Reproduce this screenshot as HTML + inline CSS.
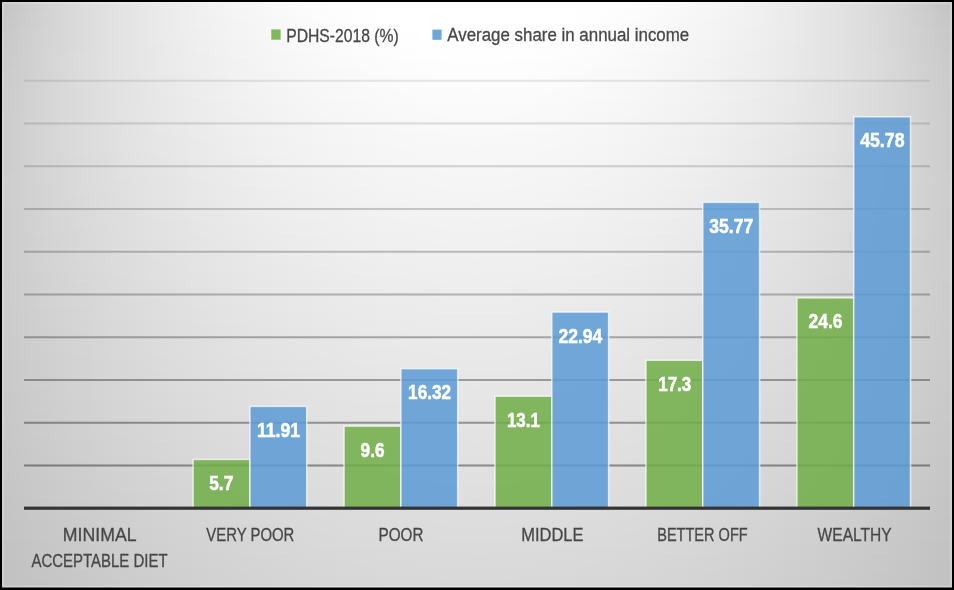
<!DOCTYPE html>
<html><head><meta charset="utf-8"><style>
html,body{margin:0;padding:0;width:954px;height:590px;overflow:hidden;background:#000;}
#bg{position:absolute;left:0;top:0;width:954px;height:590px;}
#bg div{position:absolute;left:0;width:954px;}
svg{position:absolute;left:0;top:0;display:block;will-change:transform;}
text{font-family:"Liberation Sans", sans-serif;}
</style></head><body>

<div id="bg">
<div style="top:0px;height:4px;background:linear-gradient(90deg,#c3c3c3 0.21%,#d0d0d0 4.19%,#dbdbdb 8.39%,#e3e3e3 12.58%,#eaeaea 16.77%,#f0f0f0 20.96%,#f5f5f5 25.16%,#f9f9f9 29.35%,#fdfdfd 33.54%,#ffffff 37.74%,#ffffff 41.93%,#ffffff 46.12%,#ffffff 50.00%,#ffffff 53.88%,#ffffff 58.07%,#ffffff 62.26%,#fdfdfd 66.46%,#f9f9f9 70.65%,#f5f5f5 74.84%,#f0f0f0 79.04%,#eaeaea 83.23%,#e3e3e3 87.42%,#dbdbdb 91.61%,#d0d0d0 95.81%,#c3c3c3 99.79%)"></div>
<div style="top:4px;height:4px;background:linear-gradient(90deg,#c4c4c4 0.21%,#d0d0d0 4.19%,#dbdbdb 8.39%,#e3e3e3 12.58%,#eaeaea 16.77%,#f0f0f0 20.96%,#f5f5f5 25.16%,#f9f9f9 29.35%,#fcfcfc 33.54%,#ffffff 37.74%,#ffffff 41.93%,#ffffff 46.12%,#ffffff 50.00%,#ffffff 53.88%,#ffffff 58.07%,#ffffff 62.26%,#fcfcfc 66.46%,#f9f9f9 70.65%,#f5f5f5 74.84%,#f0f0f0 79.04%,#eaeaea 83.23%,#e3e3e3 87.42%,#dbdbdb 91.61%,#d0d0d0 95.81%,#c4c4c4 99.79%)"></div>
<div style="top:8px;height:4px;background:linear-gradient(90deg,#c4c4c4 0.21%,#d0d0d0 4.19%,#dbdbdb 8.39%,#e3e3e3 12.58%,#eaeaea 16.77%,#f0f0f0 20.96%,#f5f5f5 25.16%,#f9f9f9 29.35%,#fcfcfc 33.54%,#fefefe 37.74%,#ffffff 41.93%,#ffffff 46.12%,#ffffff 50.00%,#ffffff 53.88%,#ffffff 58.07%,#fefefe 62.26%,#fcfcfc 66.46%,#f9f9f9 70.65%,#f5f5f5 74.84%,#f0f0f0 79.04%,#eaeaea 83.23%,#e3e3e3 87.42%,#dbdbdb 91.61%,#d0d0d0 95.81%,#c4c4c4 99.79%)"></div>
<div style="top:12px;height:4px;background:linear-gradient(90deg,#c5c5c5 0.21%,#d1d1d1 4.19%,#dbdbdb 8.39%,#e3e3e3 12.58%,#eaeaea 16.77%,#f0f0f0 20.96%,#f5f5f5 25.16%,#f9f9f9 29.35%,#fcfcfc 33.54%,#fefefe 37.74%,#ffffff 41.93%,#ffffff 46.12%,#ffffff 50.00%,#ffffff 53.88%,#ffffff 58.07%,#fefefe 62.26%,#fcfcfc 66.46%,#f9f9f9 70.65%,#f5f5f5 74.84%,#f0f0f0 79.04%,#eaeaea 83.23%,#e3e3e3 87.42%,#dbdbdb 91.61%,#d1d1d1 95.81%,#c5c5c5 99.79%)"></div>
<div style="top:16px;height:4px;background:linear-gradient(90deg,#c5c5c5 0.21%,#d1d1d1 4.19%,#dbdbdb 8.39%,#e3e3e3 12.58%,#eaeaea 16.77%,#f0f0f0 20.96%,#f5f5f5 25.16%,#f8f8f8 29.35%,#fcfcfc 33.54%,#fefefe 37.74%,#ffffff 41.93%,#ffffff 46.12%,#ffffff 50.00%,#ffffff 53.88%,#ffffff 58.07%,#fefefe 62.26%,#fcfcfc 66.46%,#f8f8f8 70.65%,#f5f5f5 74.84%,#f0f0f0 79.04%,#eaeaea 83.23%,#e3e3e3 87.42%,#dbdbdb 91.61%,#d1d1d1 95.81%,#c5c5c5 99.79%)"></div>
<div style="top:20px;height:4px;background:linear-gradient(90deg,#c6c6c6 0.21%,#d1d1d1 4.19%,#dbdbdb 8.39%,#e3e3e3 12.58%,#eaeaea 16.77%,#f0f0f0 20.96%,#f4f4f4 25.16%,#f8f8f8 29.35%,#fbfbfb 33.54%,#fefefe 37.74%,#ffffff 41.93%,#ffffff 46.12%,#ffffff 50.00%,#ffffff 53.88%,#ffffff 58.07%,#fefefe 62.26%,#fbfbfb 66.46%,#f8f8f8 70.65%,#f4f4f4 74.84%,#f0f0f0 79.04%,#eaeaea 83.23%,#e3e3e3 87.42%,#dbdbdb 91.61%,#d1d1d1 95.81%,#c6c6c6 99.79%)"></div>
<div style="top:24px;height:4px;background:linear-gradient(90deg,#c6c6c6 0.21%,#d1d1d1 4.19%,#dbdbdb 8.39%,#e3e3e3 12.58%,#eaeaea 16.77%,#f0f0f0 20.96%,#f4f4f4 25.16%,#f8f8f8 29.35%,#fbfbfb 33.54%,#fdfdfd 37.74%,#ffffff 41.93%,#ffffff 46.12%,#ffffff 50.00%,#ffffff 53.88%,#ffffff 58.07%,#fdfdfd 62.26%,#fbfbfb 66.46%,#f8f8f8 70.65%,#f4f4f4 74.84%,#f0f0f0 79.04%,#eaeaea 83.23%,#e3e3e3 87.42%,#dbdbdb 91.61%,#d1d1d1 95.81%,#c6c6c6 99.79%)"></div>
<div style="top:28px;height:4px;background:linear-gradient(90deg,#c7c7c7 0.21%,#d2d2d2 4.19%,#dbdbdb 8.39%,#e3e3e3 12.58%,#eaeaea 16.77%,#efefef 20.96%,#f4f4f4 25.16%,#f8f8f8 29.35%,#fbfbfb 33.54%,#fdfdfd 37.74%,#ffffff 41.93%,#ffffff 46.12%,#ffffff 50.00%,#ffffff 53.88%,#ffffff 58.07%,#fdfdfd 62.26%,#fbfbfb 66.46%,#f8f8f8 70.65%,#f4f4f4 74.84%,#efefef 79.04%,#eaeaea 83.23%,#e3e3e3 87.42%,#dbdbdb 91.61%,#d2d2d2 95.81%,#c7c7c7 99.79%)"></div>
<div style="top:32px;height:4px;background:linear-gradient(90deg,#c7c7c7 0.21%,#d2d2d2 4.19%,#dbdbdb 8.39%,#e3e3e3 12.58%,#eaeaea 16.77%,#efefef 20.96%,#f4f4f4 25.16%,#f8f8f8 29.35%,#fbfbfb 33.54%,#fdfdfd 37.74%,#fefefe 41.93%,#ffffff 46.12%,#ffffff 50.00%,#ffffff 53.88%,#fefefe 58.07%,#fdfdfd 62.26%,#fbfbfb 66.46%,#f8f8f8 70.65%,#f4f4f4 74.84%,#efefef 79.04%,#eaeaea 83.23%,#e3e3e3 87.42%,#dbdbdb 91.61%,#d2d2d2 95.81%,#c7c7c7 99.79%)"></div>
<div style="top:36px;height:4px;background:linear-gradient(90deg,#c7c7c7 0.21%,#d2d2d2 4.19%,#dbdbdb 8.39%,#e3e3e3 12.58%,#eaeaea 16.77%,#efefef 20.96%,#f4f4f4 25.16%,#f7f7f7 29.35%,#fafafa 33.54%,#fdfdfd 37.74%,#fefefe 41.93%,#ffffff 46.12%,#ffffff 50.00%,#ffffff 53.88%,#fefefe 58.07%,#fdfdfd 62.26%,#fafafa 66.46%,#f7f7f7 70.65%,#f4f4f4 74.84%,#efefef 79.04%,#eaeaea 83.23%,#e3e3e3 87.42%,#dbdbdb 91.61%,#d2d2d2 95.81%,#c7c7c7 99.79%)"></div>
<div style="top:40px;height:4px;background:linear-gradient(90deg,#c8c8c8 0.21%,#d2d2d2 4.19%,#dbdbdb 8.39%,#e3e3e3 12.58%,#eaeaea 16.77%,#efefef 20.96%,#f3f3f3 25.16%,#f7f7f7 29.35%,#fafafa 33.54%,#fcfcfc 37.74%,#fefefe 41.93%,#ffffff 46.12%,#ffffff 50.00%,#ffffff 53.88%,#fefefe 58.07%,#fcfcfc 62.26%,#fafafa 66.46%,#f7f7f7 70.65%,#f3f3f3 74.84%,#efefef 79.04%,#eaeaea 83.23%,#e3e3e3 87.42%,#dbdbdb 91.61%,#d2d2d2 95.81%,#c8c8c8 99.79%)"></div>
<div style="top:44px;height:4px;background:linear-gradient(90deg,#c8c8c8 0.21%,#d2d2d2 4.19%,#dbdbdb 8.39%,#e3e3e3 12.58%,#e9e9e9 16.77%,#efefef 20.96%,#f3f3f3 25.16%,#f7f7f7 29.35%,#fafafa 33.54%,#fcfcfc 37.74%,#fefefe 41.93%,#fefefe 46.12%,#ffffff 50.00%,#fefefe 53.88%,#fefefe 58.07%,#fcfcfc 62.26%,#fafafa 66.46%,#f7f7f7 70.65%,#f3f3f3 74.84%,#efefef 79.04%,#e9e9e9 83.23%,#e3e3e3 87.42%,#dbdbdb 91.61%,#d2d2d2 95.81%,#c8c8c8 99.79%)"></div>
<div style="top:48px;height:4px;background:linear-gradient(90deg,#c8c8c8 0.21%,#d3d3d3 4.19%,#dbdbdb 8.39%,#e3e3e3 12.58%,#e9e9e9 16.77%,#efefef 20.96%,#f3f3f3 25.16%,#f7f7f7 29.35%,#fafafa 33.54%,#fcfcfc 37.74%,#fdfdfd 41.93%,#fefefe 46.12%,#fefefe 50.00%,#fefefe 53.88%,#fdfdfd 58.07%,#fcfcfc 62.26%,#fafafa 66.46%,#f7f7f7 70.65%,#f3f3f3 74.84%,#efefef 79.04%,#e9e9e9 83.23%,#e3e3e3 87.42%,#dbdbdb 91.61%,#d3d3d3 95.81%,#c8c8c8 99.79%)"></div>
<div style="top:52px;height:4px;background:linear-gradient(90deg,#c9c9c9 0.21%,#d3d3d3 4.19%,#dcdcdc 8.39%,#e3e3e3 12.58%,#e9e9e9 16.77%,#eeeeee 20.96%,#f3f3f3 25.16%,#f6f6f6 29.35%,#f9f9f9 33.54%,#fcfcfc 37.74%,#fdfdfd 41.93%,#fefefe 46.12%,#fefefe 50.00%,#fefefe 53.88%,#fdfdfd 58.07%,#fcfcfc 62.26%,#f9f9f9 66.46%,#f6f6f6 70.65%,#f3f3f3 74.84%,#eeeeee 79.04%,#e9e9e9 83.23%,#e3e3e3 87.42%,#dcdcdc 91.61%,#d3d3d3 95.81%,#c9c9c9 99.79%)"></div>
<div style="top:56px;height:4px;background:linear-gradient(90deg,#c9c9c9 0.21%,#d3d3d3 4.19%,#dcdcdc 8.39%,#e3e3e3 12.58%,#e9e9e9 16.77%,#eeeeee 20.96%,#f3f3f3 25.16%,#f6f6f6 29.35%,#f9f9f9 33.54%,#fbfbfb 37.74%,#fdfdfd 41.93%,#fefefe 46.12%,#fefefe 50.00%,#fefefe 53.88%,#fdfdfd 58.07%,#fbfbfb 62.26%,#f9f9f9 66.46%,#f6f6f6 70.65%,#f3f3f3 74.84%,#eeeeee 79.04%,#e9e9e9 83.23%,#e3e3e3 87.42%,#dcdcdc 91.61%,#d3d3d3 95.81%,#c9c9c9 99.79%)"></div>
<div style="top:60px;height:4px;background:linear-gradient(90deg,#c9c9c9 0.21%,#d3d3d3 4.19%,#dcdcdc 8.39%,#e3e3e3 12.58%,#e9e9e9 16.77%,#eeeeee 20.96%,#f2f2f2 25.16%,#f6f6f6 29.35%,#f9f9f9 33.54%,#fbfbfb 37.74%,#fcfcfc 41.93%,#fdfdfd 46.12%,#fefefe 50.00%,#fdfdfd 53.88%,#fcfcfc 58.07%,#fbfbfb 62.26%,#f9f9f9 66.46%,#f6f6f6 70.65%,#f2f2f2 74.84%,#eeeeee 79.04%,#e9e9e9 83.23%,#e3e3e3 87.42%,#dcdcdc 91.61%,#d3d3d3 95.81%,#c9c9c9 99.79%)"></div>
<div style="top:64px;height:4px;background:linear-gradient(90deg,#c9c9c9 0.21%,#d3d3d3 4.19%,#dcdcdc 8.39%,#e3e3e3 12.58%,#e9e9e9 16.77%,#eeeeee 20.96%,#f2f2f2 25.16%,#f6f6f6 29.35%,#f9f9f9 33.54%,#fbfbfb 37.74%,#fcfcfc 41.93%,#fdfdfd 46.12%,#fdfdfd 50.00%,#fdfdfd 53.88%,#fcfcfc 58.07%,#fbfbfb 62.26%,#f9f9f9 66.46%,#f6f6f6 70.65%,#f2f2f2 74.84%,#eeeeee 79.04%,#e9e9e9 83.23%,#e3e3e3 87.42%,#dcdcdc 91.61%,#d3d3d3 95.81%,#c9c9c9 99.79%)"></div>
<div style="top:68px;height:4px;background:linear-gradient(90deg,#cacaca 0.21%,#d3d3d3 4.19%,#dcdcdc 8.39%,#e3e3e3 12.58%,#e9e9e9 16.77%,#eeeeee 20.96%,#f2f2f2 25.16%,#f6f6f6 29.35%,#f8f8f8 33.54%,#fafafa 37.74%,#fcfcfc 41.93%,#fdfdfd 46.12%,#fdfdfd 50.00%,#fdfdfd 53.88%,#fcfcfc 58.07%,#fafafa 62.26%,#f8f8f8 66.46%,#f6f6f6 70.65%,#f2f2f2 74.84%,#eeeeee 79.04%,#e9e9e9 83.23%,#e3e3e3 87.42%,#dcdcdc 91.61%,#d3d3d3 95.81%,#cacaca 99.79%)"></div>
<div style="top:72px;height:4px;background:linear-gradient(90deg,#cacaca 0.21%,#d3d3d3 4.19%,#dcdcdc 8.39%,#e3e3e3 12.58%,#e9e9e9 16.77%,#eeeeee 20.96%,#f2f2f2 25.16%,#f5f5f5 29.35%,#f8f8f8 33.54%,#fafafa 37.74%,#fcfcfc 41.93%,#fdfdfd 46.12%,#fdfdfd 50.00%,#fdfdfd 53.88%,#fcfcfc 58.07%,#fafafa 62.26%,#f8f8f8 66.46%,#f5f5f5 70.65%,#f2f2f2 74.84%,#eeeeee 79.04%,#e9e9e9 83.23%,#e3e3e3 87.42%,#dcdcdc 91.61%,#d3d3d3 95.81%,#cacaca 99.79%)"></div>
<div style="top:76px;height:4px;background:linear-gradient(90deg,#cacaca 0.21%,#d3d3d3 4.19%,#dcdcdc 8.39%,#e3e3e3 12.58%,#e8e8e8 16.77%,#ededed 20.96%,#f2f2f2 25.16%,#f5f5f5 29.35%,#f8f8f8 33.54%,#fafafa 37.74%,#fbfbfb 41.93%,#fcfcfc 46.12%,#fcfcfc 50.00%,#fcfcfc 53.88%,#fbfbfb 58.07%,#fafafa 62.26%,#f8f8f8 66.46%,#f5f5f5 70.65%,#f2f2f2 74.84%,#ededed 79.04%,#e8e8e8 83.23%,#e3e3e3 87.42%,#dcdcdc 91.61%,#d3d3d3 95.81%,#cacaca 99.79%)"></div>
<div style="top:80px;height:4px;background:linear-gradient(90deg,#cacaca 0.21%,#d3d3d3 4.19%,#dcdcdc 8.39%,#e2e2e2 12.58%,#e8e8e8 16.77%,#ededed 20.96%,#f1f1f1 25.16%,#f5f5f5 29.35%,#f8f8f8 33.54%,#fafafa 37.74%,#fbfbfb 41.93%,#fcfcfc 46.12%,#fcfcfc 50.00%,#fcfcfc 53.88%,#fbfbfb 58.07%,#fafafa 62.26%,#f8f8f8 66.46%,#f5f5f5 70.65%,#f1f1f1 74.84%,#ededed 79.04%,#e8e8e8 83.23%,#e2e2e2 87.42%,#dcdcdc 91.61%,#d3d3d3 95.81%,#cacaca 99.79%)"></div>
<div style="top:84px;height:4px;background:linear-gradient(90deg,#cacaca 0.21%,#d3d3d3 4.19%,#dcdcdc 8.39%,#e2e2e2 12.58%,#e8e8e8 16.77%,#ededed 20.96%,#f1f1f1 25.16%,#f5f5f5 29.35%,#f7f7f7 33.54%,#f9f9f9 37.74%,#fbfbfb 41.93%,#fcfcfc 46.12%,#fcfcfc 50.00%,#fcfcfc 53.88%,#fbfbfb 58.07%,#f9f9f9 62.26%,#f7f7f7 66.46%,#f5f5f5 70.65%,#f1f1f1 74.84%,#ededed 79.04%,#e8e8e8 83.23%,#e2e2e2 87.42%,#dcdcdc 91.61%,#d3d3d3 95.81%,#cacaca 99.79%)"></div>
<div style="top:88px;height:4px;background:linear-gradient(90deg,#cbcbcb 0.21%,#d4d4d4 4.19%,#dbdbdb 8.39%,#e2e2e2 12.58%,#e8e8e8 16.77%,#ededed 20.96%,#f1f1f1 25.16%,#f4f4f4 29.35%,#f7f7f7 33.54%,#f9f9f9 37.74%,#fbfbfb 41.93%,#fbfbfb 46.12%,#fcfcfc 50.00%,#fbfbfb 53.88%,#fbfbfb 58.07%,#f9f9f9 62.26%,#f7f7f7 66.46%,#f4f4f4 70.65%,#f1f1f1 74.84%,#ededed 79.04%,#e8e8e8 83.23%,#e2e2e2 87.42%,#dbdbdb 91.61%,#d4d4d4 95.81%,#cbcbcb 99.79%)"></div>
<div style="top:92px;height:4px;background:linear-gradient(90deg,#cbcbcb 0.21%,#d4d4d4 4.19%,#dbdbdb 8.39%,#e2e2e2 12.58%,#e8e8e8 16.77%,#ededed 20.96%,#f1f1f1 25.16%,#f4f4f4 29.35%,#f7f7f7 33.54%,#f9f9f9 37.74%,#fafafa 41.93%,#fbfbfb 46.12%,#fbfbfb 50.00%,#fbfbfb 53.88%,#fafafa 58.07%,#f9f9f9 62.26%,#f7f7f7 66.46%,#f4f4f4 70.65%,#f1f1f1 74.84%,#ededed 79.04%,#e8e8e8 83.23%,#e2e2e2 87.42%,#dbdbdb 91.61%,#d4d4d4 95.81%,#cbcbcb 99.79%)"></div>
<div style="top:96px;height:4px;background:linear-gradient(90deg,#cbcbcb 0.21%,#d4d4d4 4.19%,#dbdbdb 8.39%,#e2e2e2 12.58%,#e8e8e8 16.77%,#ededed 20.96%,#f1f1f1 25.16%,#f4f4f4 29.35%,#f7f7f7 33.54%,#f9f9f9 37.74%,#fafafa 41.93%,#fbfbfb 46.12%,#fbfbfb 50.00%,#fbfbfb 53.88%,#fafafa 58.07%,#f9f9f9 62.26%,#f7f7f7 66.46%,#f4f4f4 70.65%,#f1f1f1 74.84%,#ededed 79.04%,#e8e8e8 83.23%,#e2e2e2 87.42%,#dbdbdb 91.61%,#d4d4d4 95.81%,#cbcbcb 99.79%)"></div>
<div style="top:100px;height:4px;background:linear-gradient(90deg,#cbcbcb 0.21%,#d4d4d4 4.19%,#dbdbdb 8.39%,#e2e2e2 12.58%,#e8e8e8 16.77%,#ececec 20.96%,#f0f0f0 25.16%,#f4f4f4 29.35%,#f6f6f6 33.54%,#f8f8f8 37.74%,#fafafa 41.93%,#fbfbfb 46.12%,#fbfbfb 50.00%,#fbfbfb 53.88%,#fafafa 58.07%,#f8f8f8 62.26%,#f6f6f6 66.46%,#f4f4f4 70.65%,#f0f0f0 74.84%,#ececec 79.04%,#e8e8e8 83.23%,#e2e2e2 87.42%,#dbdbdb 91.61%,#d4d4d4 95.81%,#cbcbcb 99.79%)"></div>
<div style="top:104px;height:4px;background:linear-gradient(90deg,#cbcbcb 0.21%,#d4d4d4 4.19%,#dbdbdb 8.39%,#e2e2e2 12.58%,#e7e7e7 16.77%,#ececec 20.96%,#f0f0f0 25.16%,#f3f3f3 29.35%,#f6f6f6 33.54%,#f8f8f8 37.74%,#f9f9f9 41.93%,#fafafa 46.12%,#fafafa 50.00%,#fafafa 53.88%,#f9f9f9 58.07%,#f8f8f8 62.26%,#f6f6f6 66.46%,#f3f3f3 70.65%,#f0f0f0 74.84%,#ececec 79.04%,#e7e7e7 83.23%,#e2e2e2 87.42%,#dbdbdb 91.61%,#d4d4d4 95.81%,#cbcbcb 99.79%)"></div>
<div style="top:108px;height:4px;background:linear-gradient(90deg,#cbcbcb 0.21%,#d4d4d4 4.19%,#dbdbdb 8.39%,#e2e2e2 12.58%,#e7e7e7 16.77%,#ececec 20.96%,#f0f0f0 25.16%,#f3f3f3 29.35%,#f6f6f6 33.54%,#f8f8f8 37.74%,#f9f9f9 41.93%,#fafafa 46.12%,#fafafa 50.00%,#fafafa 53.88%,#f9f9f9 58.07%,#f8f8f8 62.26%,#f6f6f6 66.46%,#f3f3f3 70.65%,#f0f0f0 74.84%,#ececec 79.04%,#e7e7e7 83.23%,#e2e2e2 87.42%,#dbdbdb 91.61%,#d4d4d4 95.81%,#cbcbcb 99.79%)"></div>
<div style="top:112px;height:4px;background:linear-gradient(90deg,#cccccc 0.21%,#d4d4d4 4.19%,#dbdbdb 8.39%,#e2e2e2 12.58%,#e7e7e7 16.77%,#ececec 20.96%,#f0f0f0 25.16%,#f3f3f3 29.35%,#f6f6f6 33.54%,#f7f7f7 37.74%,#f9f9f9 41.93%,#fafafa 46.12%,#fafafa 50.00%,#fafafa 53.88%,#f9f9f9 58.07%,#f7f7f7 62.26%,#f6f6f6 66.46%,#f3f3f3 70.65%,#f0f0f0 74.84%,#ececec 79.04%,#e7e7e7 83.23%,#e2e2e2 87.42%,#dbdbdb 91.61%,#d4d4d4 95.81%,#cccccc 99.79%)"></div>
<div style="top:116px;height:4px;background:linear-gradient(90deg,#cccccc 0.21%,#d4d4d4 4.19%,#dbdbdb 8.39%,#e2e2e2 12.58%,#e7e7e7 16.77%,#ececec 20.96%,#efefef 25.16%,#f3f3f3 29.35%,#f5f5f5 33.54%,#f7f7f7 37.74%,#f9f9f9 41.93%,#f9f9f9 46.12%,#fafafa 50.00%,#f9f9f9 53.88%,#f9f9f9 58.07%,#f7f7f7 62.26%,#f5f5f5 66.46%,#f3f3f3 70.65%,#efefef 74.84%,#ececec 79.04%,#e7e7e7 83.23%,#e2e2e2 87.42%,#dbdbdb 91.61%,#d4d4d4 95.81%,#cccccc 99.79%)"></div>
<div style="top:120px;height:4px;background:linear-gradient(90deg,#cccccc 0.21%,#d4d4d4 4.19%,#dbdbdb 8.39%,#e1e1e1 12.58%,#e7e7e7 16.77%,#ebebeb 20.96%,#efefef 25.16%,#f2f2f2 29.35%,#f5f5f5 33.54%,#f7f7f7 37.74%,#f8f8f8 41.93%,#f9f9f9 46.12%,#f9f9f9 50.00%,#f9f9f9 53.88%,#f8f8f8 58.07%,#f7f7f7 62.26%,#f5f5f5 66.46%,#f2f2f2 70.65%,#efefef 74.84%,#ebebeb 79.04%,#e7e7e7 83.23%,#e1e1e1 87.42%,#dbdbdb 91.61%,#d4d4d4 95.81%,#cccccc 99.79%)"></div>
<div style="top:124px;height:4px;background:linear-gradient(90deg,#cccccc 0.21%,#d4d4d4 4.19%,#dbdbdb 8.39%,#e1e1e1 12.58%,#e7e7e7 16.77%,#ebebeb 20.96%,#efefef 25.16%,#f2f2f2 29.35%,#f5f5f5 33.54%,#f7f7f7 37.74%,#f8f8f8 41.93%,#f9f9f9 46.12%,#f9f9f9 50.00%,#f9f9f9 53.88%,#f8f8f8 58.07%,#f7f7f7 62.26%,#f5f5f5 66.46%,#f2f2f2 70.65%,#efefef 74.84%,#ebebeb 79.04%,#e7e7e7 83.23%,#e1e1e1 87.42%,#dbdbdb 91.61%,#d4d4d4 95.81%,#cccccc 99.79%)"></div>
<div style="top:128px;height:4px;background:linear-gradient(90deg,#cccccc 0.21%,#d4d4d4 4.19%,#dbdbdb 8.39%,#e1e1e1 12.58%,#e7e7e7 16.77%,#ebebeb 20.96%,#efefef 25.16%,#f2f2f2 29.35%,#f4f4f4 33.54%,#f6f6f6 37.74%,#f8f8f8 41.93%,#f9f9f9 46.12%,#f9f9f9 50.00%,#f9f9f9 53.88%,#f8f8f8 58.07%,#f6f6f6 62.26%,#f4f4f4 66.46%,#f2f2f2 70.65%,#efefef 74.84%,#ebebeb 79.04%,#e7e7e7 83.23%,#e1e1e1 87.42%,#dbdbdb 91.61%,#d4d4d4 95.81%,#cccccc 99.79%)"></div>
<div style="top:132px;height:4px;background:linear-gradient(90deg,#cccccc 0.21%,#d4d4d4 4.19%,#dbdbdb 8.39%,#e1e1e1 12.58%,#e6e6e6 16.77%,#ebebeb 20.96%,#efefef 25.16%,#f2f2f2 29.35%,#f4f4f4 33.54%,#f6f6f6 37.74%,#f7f7f7 41.93%,#f8f8f8 46.12%,#f9f9f9 50.00%,#f8f8f8 53.88%,#f7f7f7 58.07%,#f6f6f6 62.26%,#f4f4f4 66.46%,#f2f2f2 70.65%,#efefef 74.84%,#ebebeb 79.04%,#e6e6e6 83.23%,#e1e1e1 87.42%,#dbdbdb 91.61%,#d4d4d4 95.81%,#cccccc 99.79%)"></div>
<div style="top:136px;height:4px;background:linear-gradient(90deg,#cccccc 0.21%,#d4d4d4 4.19%,#dbdbdb 8.39%,#e1e1e1 12.58%,#e6e6e6 16.77%,#ebebeb 20.96%,#eeeeee 25.16%,#f1f1f1 29.35%,#f4f4f4 33.54%,#f6f6f6 37.74%,#f7f7f7 41.93%,#f8f8f8 46.12%,#f8f8f8 50.00%,#f8f8f8 53.88%,#f7f7f7 58.07%,#f6f6f6 62.26%,#f4f4f4 66.46%,#f1f1f1 70.65%,#eeeeee 74.84%,#ebebeb 79.04%,#e6e6e6 83.23%,#e1e1e1 87.42%,#dbdbdb 91.61%,#d4d4d4 95.81%,#cccccc 99.79%)"></div>
<div style="top:140px;height:4px;background:linear-gradient(90deg,#cccccc 0.21%,#d4d4d4 4.19%,#dbdbdb 8.39%,#e1e1e1 12.58%,#e6e6e6 16.77%,#eaeaea 20.96%,#eeeeee 25.16%,#f1f1f1 29.35%,#f4f4f4 33.54%,#f6f6f6 37.74%,#f7f7f7 41.93%,#f8f8f8 46.12%,#f8f8f8 50.00%,#f8f8f8 53.88%,#f7f7f7 58.07%,#f6f6f6 62.26%,#f4f4f4 66.46%,#f1f1f1 70.65%,#eeeeee 74.84%,#eaeaea 79.04%,#e6e6e6 83.23%,#e1e1e1 87.42%,#dbdbdb 91.61%,#d4d4d4 95.81%,#cccccc 99.79%)"></div>
<div style="top:144px;height:4px;background:linear-gradient(90deg,#cccccc 0.21%,#d4d4d4 4.19%,#dbdbdb 8.39%,#e1e1e1 12.58%,#e6e6e6 16.77%,#eaeaea 20.96%,#eeeeee 25.16%,#f1f1f1 29.35%,#f3f3f3 33.54%,#f5f5f5 37.74%,#f7f7f7 41.93%,#f7f7f7 46.12%,#f8f8f8 50.00%,#f7f7f7 53.88%,#f7f7f7 58.07%,#f5f5f5 62.26%,#f3f3f3 66.46%,#f1f1f1 70.65%,#eeeeee 74.84%,#eaeaea 79.04%,#e6e6e6 83.23%,#e1e1e1 87.42%,#dbdbdb 91.61%,#d4d4d4 95.81%,#cccccc 99.79%)"></div>
<div style="top:148px;height:4px;background:linear-gradient(90deg,#cccccc 0.21%,#d4d4d4 4.19%,#dbdbdb 8.39%,#e1e1e1 12.58%,#e6e6e6 16.77%,#eaeaea 20.96%,#eeeeee 25.16%,#f1f1f1 29.35%,#f3f3f3 33.54%,#f5f5f5 37.74%,#f6f6f6 41.93%,#f7f7f7 46.12%,#f7f7f7 50.00%,#f7f7f7 53.88%,#f6f6f6 58.07%,#f5f5f5 62.26%,#f3f3f3 66.46%,#f1f1f1 70.65%,#eeeeee 74.84%,#eaeaea 79.04%,#e6e6e6 83.23%,#e1e1e1 87.42%,#dbdbdb 91.61%,#d4d4d4 95.81%,#cccccc 99.79%)"></div>
<div style="top:152px;height:4px;background:linear-gradient(90deg,#cccccc 0.21%,#d4d4d4 4.19%,#dbdbdb 8.39%,#e0e0e0 12.58%,#e6e6e6 16.77%,#eaeaea 20.96%,#eeeeee 25.16%,#f1f1f1 29.35%,#f3f3f3 33.54%,#f5f5f5 37.74%,#f6f6f6 41.93%,#f7f7f7 46.12%,#f7f7f7 50.00%,#f7f7f7 53.88%,#f6f6f6 58.07%,#f5f5f5 62.26%,#f3f3f3 66.46%,#f1f1f1 70.65%,#eeeeee 74.84%,#eaeaea 79.04%,#e6e6e6 83.23%,#e0e0e0 87.42%,#dbdbdb 91.61%,#d4d4d4 95.81%,#cccccc 99.79%)"></div>
<div style="top:156px;height:4px;background:linear-gradient(90deg,#cccccc 0.21%,#d4d4d4 4.19%,#dadada 8.39%,#e0e0e0 12.58%,#e5e5e5 16.77%,#eaeaea 20.96%,#ededed 25.16%,#f0f0f0 29.35%,#f3f3f3 33.54%,#f5f5f5 37.74%,#f6f6f6 41.93%,#f7f7f7 46.12%,#f7f7f7 50.00%,#f7f7f7 53.88%,#f6f6f6 58.07%,#f5f5f5 62.26%,#f3f3f3 66.46%,#f0f0f0 70.65%,#ededed 74.84%,#eaeaea 79.04%,#e5e5e5 83.23%,#e0e0e0 87.42%,#dadada 91.61%,#d4d4d4 95.81%,#cccccc 99.79%)"></div>
<div style="top:160px;height:4px;background:linear-gradient(90deg,#cccccc 0.21%,#d4d4d4 4.19%,#dadada 8.39%,#e0e0e0 12.58%,#e5e5e5 16.77%,#e9e9e9 20.96%,#ededed 25.16%,#f0f0f0 29.35%,#f2f2f2 33.54%,#f4f4f4 37.74%,#f6f6f6 41.93%,#f6f6f6 46.12%,#f7f7f7 50.00%,#f6f6f6 53.88%,#f6f6f6 58.07%,#f4f4f4 62.26%,#f2f2f2 66.46%,#f0f0f0 70.65%,#ededed 74.84%,#e9e9e9 79.04%,#e5e5e5 83.23%,#e0e0e0 87.42%,#dadada 91.61%,#d4d4d4 95.81%,#cccccc 99.79%)"></div>
<div style="top:164px;height:4px;background:linear-gradient(90deg,#cccccc 0.21%,#d4d4d4 4.19%,#dadada 8.39%,#e0e0e0 12.58%,#e5e5e5 16.77%,#e9e9e9 20.96%,#ededed 25.16%,#f0f0f0 29.35%,#f2f2f2 33.54%,#f4f4f4 37.74%,#f5f5f5 41.93%,#f6f6f6 46.12%,#f6f6f6 50.00%,#f6f6f6 53.88%,#f5f5f5 58.07%,#f4f4f4 62.26%,#f2f2f2 66.46%,#f0f0f0 70.65%,#ededed 74.84%,#e9e9e9 79.04%,#e5e5e5 83.23%,#e0e0e0 87.42%,#dadada 91.61%,#d4d4d4 95.81%,#cccccc 99.79%)"></div>
<div style="top:168px;height:4px;background:linear-gradient(90deg,#cccccc 0.21%,#d4d4d4 4.19%,#dadada 8.39%,#e0e0e0 12.58%,#e5e5e5 16.77%,#e9e9e9 20.96%,#ededed 25.16%,#f0f0f0 29.35%,#f2f2f2 33.54%,#f4f4f4 37.74%,#f5f5f5 41.93%,#f6f6f6 46.12%,#f6f6f6 50.00%,#f6f6f6 53.88%,#f5f5f5 58.07%,#f4f4f4 62.26%,#f2f2f2 66.46%,#f0f0f0 70.65%,#ededed 74.84%,#e9e9e9 79.04%,#e5e5e5 83.23%,#e0e0e0 87.42%,#dadada 91.61%,#d4d4d4 95.81%,#cccccc 99.79%)"></div>
<div style="top:172px;height:4px;background:linear-gradient(90deg,#cdcdcd 0.21%,#d4d4d4 4.19%,#dadada 8.39%,#e0e0e0 12.58%,#e5e5e5 16.77%,#e9e9e9 20.96%,#ececec 25.16%,#efefef 29.35%,#f2f2f2 33.54%,#f3f3f3 37.74%,#f5f5f5 41.93%,#f5f5f5 46.12%,#f6f6f6 50.00%,#f5f5f5 53.88%,#f5f5f5 58.07%,#f3f3f3 62.26%,#f2f2f2 66.46%,#efefef 70.65%,#ececec 74.84%,#e9e9e9 79.04%,#e5e5e5 83.23%,#e0e0e0 87.42%,#dadada 91.61%,#d4d4d4 95.81%,#cdcdcd 99.79%)"></div>
<div style="top:176px;height:4px;background:linear-gradient(90deg,#cdcdcd 0.21%,#d4d4d4 4.19%,#dadada 8.39%,#e0e0e0 12.58%,#e4e4e4 16.77%,#e9e9e9 20.96%,#ececec 25.16%,#efefef 29.35%,#f1f1f1 33.54%,#f3f3f3 37.74%,#f4f4f4 41.93%,#f5f5f5 46.12%,#f5f5f5 50.00%,#f5f5f5 53.88%,#f4f4f4 58.07%,#f3f3f3 62.26%,#f1f1f1 66.46%,#efefef 70.65%,#ececec 74.84%,#e9e9e9 79.04%,#e4e4e4 83.23%,#e0e0e0 87.42%,#dadada 91.61%,#d4d4d4 95.81%,#cdcdcd 99.79%)"></div>
<div style="top:180px;height:4px;background:linear-gradient(90deg,#cdcdcd 0.21%,#d4d4d4 4.19%,#dadada 8.39%,#dfdfdf 12.58%,#e4e4e4 16.77%,#e8e8e8 20.96%,#ececec 25.16%,#efefef 29.35%,#f1f1f1 33.54%,#f3f3f3 37.74%,#f4f4f4 41.93%,#f5f5f5 46.12%,#f5f5f5 50.00%,#f5f5f5 53.88%,#f4f4f4 58.07%,#f3f3f3 62.26%,#f1f1f1 66.46%,#efefef 70.65%,#ececec 74.84%,#e8e8e8 79.04%,#e4e4e4 83.23%,#dfdfdf 87.42%,#dadada 91.61%,#d4d4d4 95.81%,#cdcdcd 99.79%)"></div>
<div style="top:184px;height:4px;background:linear-gradient(90deg,#cdcdcd 0.21%,#d3d3d3 4.19%,#dadada 8.39%,#dfdfdf 12.58%,#e4e4e4 16.77%,#e8e8e8 20.96%,#ececec 25.16%,#efefef 29.35%,#f1f1f1 33.54%,#f3f3f3 37.74%,#f4f4f4 41.93%,#f5f5f5 46.12%,#f5f5f5 50.00%,#f5f5f5 53.88%,#f4f4f4 58.07%,#f3f3f3 62.26%,#f1f1f1 66.46%,#efefef 70.65%,#ececec 74.84%,#e8e8e8 79.04%,#e4e4e4 83.23%,#dfdfdf 87.42%,#dadada 91.61%,#d3d3d3 95.81%,#cdcdcd 99.79%)"></div>
<div style="top:188px;height:4px;background:linear-gradient(90deg,#cdcdcd 0.21%,#d3d3d3 4.19%,#dadada 8.39%,#dfdfdf 12.58%,#e4e4e4 16.77%,#e8e8e8 20.96%,#ebebeb 25.16%,#eeeeee 29.35%,#f1f1f1 33.54%,#f2f2f2 37.74%,#f4f4f4 41.93%,#f4f4f4 46.12%,#f5f5f5 50.00%,#f4f4f4 53.88%,#f4f4f4 58.07%,#f2f2f2 62.26%,#f1f1f1 66.46%,#eeeeee 70.65%,#ebebeb 74.84%,#e8e8e8 79.04%,#e4e4e4 83.23%,#dfdfdf 87.42%,#dadada 91.61%,#d3d3d3 95.81%,#cdcdcd 99.79%)"></div>
<div style="top:192px;height:4px;background:linear-gradient(90deg,#cdcdcd 0.21%,#d3d3d3 4.19%,#dadada 8.39%,#dfdfdf 12.58%,#e4e4e4 16.77%,#e8e8e8 20.96%,#ebebeb 25.16%,#eeeeee 29.35%,#f0f0f0 33.54%,#f2f2f2 37.74%,#f3f3f3 41.93%,#f4f4f4 46.12%,#f4f4f4 50.00%,#f4f4f4 53.88%,#f3f3f3 58.07%,#f2f2f2 62.26%,#f0f0f0 66.46%,#eeeeee 70.65%,#ebebeb 74.84%,#e8e8e8 79.04%,#e4e4e4 83.23%,#dfdfdf 87.42%,#dadada 91.61%,#d3d3d3 95.81%,#cdcdcd 99.79%)"></div>
<div style="top:196px;height:4px;background:linear-gradient(90deg,#cdcdcd 0.21%,#d3d3d3 4.19%,#d9d9d9 8.39%,#dfdfdf 12.58%,#e4e4e4 16.77%,#e8e8e8 20.96%,#ebebeb 25.16%,#eeeeee 29.35%,#f0f0f0 33.54%,#f2f2f2 37.74%,#f3f3f3 41.93%,#f4f4f4 46.12%,#f4f4f4 50.00%,#f4f4f4 53.88%,#f3f3f3 58.07%,#f2f2f2 62.26%,#f0f0f0 66.46%,#eeeeee 70.65%,#ebebeb 74.84%,#e8e8e8 79.04%,#e4e4e4 83.23%,#dfdfdf 87.42%,#d9d9d9 91.61%,#d3d3d3 95.81%,#cdcdcd 99.79%)"></div>
<div style="top:200px;height:4px;background:linear-gradient(90deg,#cdcdcd 0.21%,#d3d3d3 4.19%,#d9d9d9 8.39%,#dfdfdf 12.58%,#e3e3e3 16.77%,#e7e7e7 20.96%,#ebebeb 25.16%,#eeeeee 29.35%,#f0f0f0 33.54%,#f2f2f2 37.74%,#f3f3f3 41.93%,#f3f3f3 46.12%,#f4f4f4 50.00%,#f3f3f3 53.88%,#f3f3f3 58.07%,#f2f2f2 62.26%,#f0f0f0 66.46%,#eeeeee 70.65%,#ebebeb 74.84%,#e7e7e7 79.04%,#e3e3e3 83.23%,#dfdfdf 87.42%,#d9d9d9 91.61%,#d3d3d3 95.81%,#cdcdcd 99.79%)"></div>
<div style="top:204px;height:4px;background:linear-gradient(90deg,#cdcdcd 0.21%,#d3d3d3 4.19%,#d9d9d9 8.39%,#dfdfdf 12.58%,#e3e3e3 16.77%,#e7e7e7 20.96%,#ebebeb 25.16%,#ededed 29.35%,#f0f0f0 33.54%,#f1f1f1 37.74%,#f2f2f2 41.93%,#f3f3f3 46.12%,#f3f3f3 50.00%,#f3f3f3 53.88%,#f2f2f2 58.07%,#f1f1f1 62.26%,#f0f0f0 66.46%,#ededed 70.65%,#ebebeb 74.84%,#e7e7e7 79.04%,#e3e3e3 83.23%,#dfdfdf 87.42%,#d9d9d9 91.61%,#d3d3d3 95.81%,#cdcdcd 99.79%)"></div>
<div style="top:208px;height:4px;background:linear-gradient(90deg,#cccccc 0.21%,#d3d3d3 4.19%,#d9d9d9 8.39%,#dedede 12.58%,#e3e3e3 16.77%,#e7e7e7 20.96%,#eaeaea 25.16%,#ededed 29.35%,#efefef 33.54%,#f1f1f1 37.74%,#f2f2f2 41.93%,#f3f3f3 46.12%,#f3f3f3 50.00%,#f3f3f3 53.88%,#f2f2f2 58.07%,#f1f1f1 62.26%,#efefef 66.46%,#ededed 70.65%,#eaeaea 74.84%,#e7e7e7 79.04%,#e3e3e3 83.23%,#dedede 87.42%,#d9d9d9 91.61%,#d3d3d3 95.81%,#cccccc 99.79%)"></div>
<div style="top:212px;height:4px;background:linear-gradient(90deg,#cccccc 0.21%,#d3d3d3 4.19%,#d9d9d9 8.39%,#dedede 12.58%,#e3e3e3 16.77%,#e7e7e7 20.96%,#eaeaea 25.16%,#ededed 29.35%,#efefef 33.54%,#f1f1f1 37.74%,#f2f2f2 41.93%,#f3f3f3 46.12%,#f3f3f3 50.00%,#f3f3f3 53.88%,#f2f2f2 58.07%,#f1f1f1 62.26%,#efefef 66.46%,#ededed 70.65%,#eaeaea 74.84%,#e7e7e7 79.04%,#e3e3e3 83.23%,#dedede 87.42%,#d9d9d9 91.61%,#d3d3d3 95.81%,#cccccc 99.79%)"></div>
<div style="top:216px;height:4px;background:linear-gradient(90deg,#cccccc 0.21%,#d3d3d3 4.19%,#d9d9d9 8.39%,#dedede 12.58%,#e3e3e3 16.77%,#e7e7e7 20.96%,#eaeaea 25.16%,#ededed 29.35%,#efefef 33.54%,#f0f0f0 37.74%,#f2f2f2 41.93%,#f2f2f2 46.12%,#f3f3f3 50.00%,#f2f2f2 53.88%,#f2f2f2 58.07%,#f0f0f0 62.26%,#efefef 66.46%,#ededed 70.65%,#eaeaea 74.84%,#e7e7e7 79.04%,#e3e3e3 83.23%,#dedede 87.42%,#d9d9d9 91.61%,#d3d3d3 95.81%,#cccccc 99.79%)"></div>
<div style="top:220px;height:4px;background:linear-gradient(90deg,#cccccc 0.21%,#d3d3d3 4.19%,#d9d9d9 8.39%,#dedede 12.58%,#e2e2e2 16.77%,#e6e6e6 20.96%,#eaeaea 25.16%,#ececec 29.35%,#eeeeee 33.54%,#f0f0f0 37.74%,#f1f1f1 41.93%,#f2f2f2 46.12%,#f2f2f2 50.00%,#f2f2f2 53.88%,#f1f1f1 58.07%,#f0f0f0 62.26%,#eeeeee 66.46%,#ececec 70.65%,#eaeaea 74.84%,#e6e6e6 79.04%,#e2e2e2 83.23%,#dedede 87.42%,#d9d9d9 91.61%,#d3d3d3 95.81%,#cccccc 99.79%)"></div>
<div style="top:224px;height:4px;background:linear-gradient(90deg,#cccccc 0.21%,#d3d3d3 4.19%,#d9d9d9 8.39%,#dedede 12.58%,#e2e2e2 16.77%,#e6e6e6 20.96%,#e9e9e9 25.16%,#ececec 29.35%,#eeeeee 33.54%,#f0f0f0 37.74%,#f1f1f1 41.93%,#f2f2f2 46.12%,#f2f2f2 50.00%,#f2f2f2 53.88%,#f1f1f1 58.07%,#f0f0f0 62.26%,#eeeeee 66.46%,#ececec 70.65%,#e9e9e9 74.84%,#e6e6e6 79.04%,#e2e2e2 83.23%,#dedede 87.42%,#d9d9d9 91.61%,#d3d3d3 95.81%,#cccccc 99.79%)"></div>
<div style="top:228px;height:4px;background:linear-gradient(90deg,#cccccc 0.21%,#d3d3d3 4.19%,#d8d8d8 8.39%,#dedede 12.58%,#e2e2e2 16.77%,#e6e6e6 20.96%,#e9e9e9 25.16%,#ececec 29.35%,#eeeeee 33.54%,#f0f0f0 37.74%,#f1f1f1 41.93%,#f1f1f1 46.12%,#f2f2f2 50.00%,#f1f1f1 53.88%,#f1f1f1 58.07%,#f0f0f0 62.26%,#eeeeee 66.46%,#ececec 70.65%,#e9e9e9 74.84%,#e6e6e6 79.04%,#e2e2e2 83.23%,#dedede 87.42%,#d8d8d8 91.61%,#d3d3d3 95.81%,#cccccc 99.79%)"></div>
<div style="top:232px;height:4px;background:linear-gradient(90deg,#cccccc 0.21%,#d3d3d3 4.19%,#d8d8d8 8.39%,#dddddd 12.58%,#e2e2e2 16.77%,#e6e6e6 20.96%,#e9e9e9 25.16%,#ececec 29.35%,#eeeeee 33.54%,#efefef 37.74%,#f0f0f0 41.93%,#f1f1f1 46.12%,#f1f1f1 50.00%,#f1f1f1 53.88%,#f0f0f0 58.07%,#efefef 62.26%,#eeeeee 66.46%,#ececec 70.65%,#e9e9e9 74.84%,#e6e6e6 79.04%,#e2e2e2 83.23%,#dddddd 87.42%,#d8d8d8 91.61%,#d3d3d3 95.81%,#cccccc 99.79%)"></div>
<div style="top:236px;height:4px;background:linear-gradient(90deg,#cccccc 0.21%,#d2d2d2 4.19%,#d8d8d8 8.39%,#dddddd 12.58%,#e2e2e2 16.77%,#e5e5e5 20.96%,#e9e9e9 25.16%,#ebebeb 29.35%,#ededed 33.54%,#efefef 37.74%,#f0f0f0 41.93%,#f1f1f1 46.12%,#f1f1f1 50.00%,#f1f1f1 53.88%,#f0f0f0 58.07%,#efefef 62.26%,#ededed 66.46%,#ebebeb 70.65%,#e9e9e9 74.84%,#e5e5e5 79.04%,#e2e2e2 83.23%,#dddddd 87.42%,#d8d8d8 91.61%,#d2d2d2 95.81%,#cccccc 99.79%)"></div>
<div style="top:240px;height:4px;background:linear-gradient(90deg,#cccccc 0.21%,#d2d2d2 4.19%,#d8d8d8 8.39%,#dddddd 12.58%,#e1e1e1 16.77%,#e5e5e5 20.96%,#e8e8e8 25.16%,#ebebeb 29.35%,#ededed 33.54%,#efefef 37.74%,#f0f0f0 41.93%,#f1f1f1 46.12%,#f1f1f1 50.00%,#f1f1f1 53.88%,#f0f0f0 58.07%,#efefef 62.26%,#ededed 66.46%,#ebebeb 70.65%,#e8e8e8 74.84%,#e5e5e5 79.04%,#e1e1e1 83.23%,#dddddd 87.42%,#d8d8d8 91.61%,#d2d2d2 95.81%,#cccccc 99.79%)"></div>
<div style="top:244px;height:4px;background:linear-gradient(90deg,#cccccc 0.21%,#d2d2d2 4.19%,#d8d8d8 8.39%,#dddddd 12.58%,#e1e1e1 16.77%,#e5e5e5 20.96%,#e8e8e8 25.16%,#ebebeb 29.35%,#ededed 33.54%,#efefef 37.74%,#f0f0f0 41.93%,#f0f0f0 46.12%,#f1f1f1 50.00%,#f0f0f0 53.88%,#f0f0f0 58.07%,#efefef 62.26%,#ededed 66.46%,#ebebeb 70.65%,#e8e8e8 74.84%,#e5e5e5 79.04%,#e1e1e1 83.23%,#dddddd 87.42%,#d8d8d8 91.61%,#d2d2d2 95.81%,#cccccc 99.79%)"></div>
<div style="top:248px;height:4px;background:linear-gradient(90deg,#cccccc 0.21%,#d2d2d2 4.19%,#d8d8d8 8.39%,#dddddd 12.58%,#e1e1e1 16.77%,#e5e5e5 20.96%,#e8e8e8 25.16%,#ebebeb 29.35%,#ededed 33.54%,#eeeeee 37.74%,#efefef 41.93%,#f0f0f0 46.12%,#f0f0f0 50.00%,#f0f0f0 53.88%,#efefef 58.07%,#eeeeee 62.26%,#ededed 66.46%,#ebebeb 70.65%,#e8e8e8 74.84%,#e5e5e5 79.04%,#e1e1e1 83.23%,#dddddd 87.42%,#d8d8d8 91.61%,#d2d2d2 95.81%,#cccccc 99.79%)"></div>
<div style="top:252px;height:4px;background:linear-gradient(90deg,#cccccc 0.21%,#d2d2d2 4.19%,#d8d8d8 8.39%,#dddddd 12.58%,#e1e1e1 16.77%,#e5e5e5 20.96%,#e8e8e8 25.16%,#eaeaea 29.35%,#ececec 33.54%,#eeeeee 37.74%,#efefef 41.93%,#f0f0f0 46.12%,#f0f0f0 50.00%,#f0f0f0 53.88%,#efefef 58.07%,#eeeeee 62.26%,#ececec 66.46%,#eaeaea 70.65%,#e8e8e8 74.84%,#e5e5e5 79.04%,#e1e1e1 83.23%,#dddddd 87.42%,#d8d8d8 91.61%,#d2d2d2 95.81%,#cccccc 99.79%)"></div>
<div style="top:256px;height:4px;background:linear-gradient(90deg,#cccccc 0.21%,#d2d2d2 4.19%,#d8d8d8 8.39%,#dcdcdc 12.58%,#e1e1e1 16.77%,#e4e4e4 20.96%,#e7e7e7 25.16%,#eaeaea 29.35%,#ececec 33.54%,#eeeeee 37.74%,#efefef 41.93%,#efefef 46.12%,#f0f0f0 50.00%,#efefef 53.88%,#efefef 58.07%,#eeeeee 62.26%,#ececec 66.46%,#eaeaea 70.65%,#e7e7e7 74.84%,#e4e4e4 79.04%,#e1e1e1 83.23%,#dcdcdc 87.42%,#d8d8d8 91.61%,#d2d2d2 95.81%,#cccccc 99.79%)"></div>
<div style="top:260px;height:4px;background:linear-gradient(90deg,#cccccc 0.21%,#d2d2d2 4.19%,#d7d7d7 8.39%,#dcdcdc 12.58%,#e0e0e0 16.77%,#e4e4e4 20.96%,#e7e7e7 25.16%,#eaeaea 29.35%,#ececec 33.54%,#ededed 37.74%,#efefef 41.93%,#efefef 46.12%,#efefef 50.00%,#efefef 53.88%,#efefef 58.07%,#ededed 62.26%,#ececec 66.46%,#eaeaea 70.65%,#e7e7e7 74.84%,#e4e4e4 79.04%,#e0e0e0 83.23%,#dcdcdc 87.42%,#d7d7d7 91.61%,#d2d2d2 95.81%,#cccccc 99.79%)"></div>
<div style="top:264px;height:4px;background:linear-gradient(90deg,#cccccc 0.21%,#d2d2d2 4.19%,#d7d7d7 8.39%,#dcdcdc 12.58%,#e0e0e0 16.77%,#e4e4e4 20.96%,#e7e7e7 25.16%,#e9e9e9 29.35%,#ececec 33.54%,#ededed 37.74%,#eeeeee 41.93%,#efefef 46.12%,#efefef 50.00%,#efefef 53.88%,#eeeeee 58.07%,#ededed 62.26%,#ececec 66.46%,#e9e9e9 70.65%,#e7e7e7 74.84%,#e4e4e4 79.04%,#e0e0e0 83.23%,#dcdcdc 87.42%,#d7d7d7 91.61%,#d2d2d2 95.81%,#cccccc 99.79%)"></div>
<div style="top:268px;height:4px;background:linear-gradient(90deg,#cccccc 0.21%,#d2d2d2 4.19%,#d7d7d7 8.39%,#dcdcdc 12.58%,#e0e0e0 16.77%,#e4e4e4 20.96%,#e7e7e7 25.16%,#e9e9e9 29.35%,#ebebeb 33.54%,#ededed 37.74%,#eeeeee 41.93%,#efefef 46.12%,#efefef 50.00%,#efefef 53.88%,#eeeeee 58.07%,#ededed 62.26%,#ebebeb 66.46%,#e9e9e9 70.65%,#e7e7e7 74.84%,#e4e4e4 79.04%,#e0e0e0 83.23%,#dcdcdc 87.42%,#d7d7d7 91.61%,#d2d2d2 95.81%,#cccccc 99.79%)"></div>
<div style="top:272px;height:4px;background:linear-gradient(90deg,#cccccc 0.21%,#d1d1d1 4.19%,#d7d7d7 8.39%,#dcdcdc 12.58%,#e0e0e0 16.77%,#e3e3e3 20.96%,#e6e6e6 25.16%,#e9e9e9 29.35%,#ebebeb 33.54%,#ededed 37.74%,#eeeeee 41.93%,#eeeeee 46.12%,#efefef 50.00%,#eeeeee 53.88%,#eeeeee 58.07%,#ededed 62.26%,#ebebeb 66.46%,#e9e9e9 70.65%,#e6e6e6 74.84%,#e3e3e3 79.04%,#e0e0e0 83.23%,#dcdcdc 87.42%,#d7d7d7 91.61%,#d1d1d1 95.81%,#cccccc 99.79%)"></div>
<div style="top:276px;height:4px;background:linear-gradient(90deg,#cccccc 0.21%,#d1d1d1 4.19%,#d7d7d7 8.39%,#dbdbdb 12.58%,#e0e0e0 16.77%,#e3e3e3 20.96%,#e6e6e6 25.16%,#e9e9e9 29.35%,#ebebeb 33.54%,#ececec 37.74%,#ededed 41.93%,#eeeeee 46.12%,#eeeeee 50.00%,#eeeeee 53.88%,#ededed 58.07%,#ececec 62.26%,#ebebeb 66.46%,#e9e9e9 70.65%,#e6e6e6 74.84%,#e3e3e3 79.04%,#e0e0e0 83.23%,#dbdbdb 87.42%,#d7d7d7 91.61%,#d1d1d1 95.81%,#cccccc 99.79%)"></div>
<div style="top:280px;height:4px;background:linear-gradient(90deg,#cccccc 0.21%,#d1d1d1 4.19%,#d7d7d7 8.39%,#dbdbdb 12.58%,#dfdfdf 16.77%,#e3e3e3 20.96%,#e6e6e6 25.16%,#e8e8e8 29.35%,#eaeaea 33.54%,#ececec 37.74%,#ededed 41.93%,#eeeeee 46.12%,#eeeeee 50.00%,#eeeeee 53.88%,#ededed 58.07%,#ececec 62.26%,#eaeaea 66.46%,#e8e8e8 70.65%,#e6e6e6 74.84%,#e3e3e3 79.04%,#dfdfdf 83.23%,#dbdbdb 87.42%,#d7d7d7 91.61%,#d1d1d1 95.81%,#cccccc 99.79%)"></div>
<div style="top:284px;height:4px;background:linear-gradient(90deg,#cbcbcb 0.21%,#d1d1d1 4.19%,#d6d6d6 8.39%,#dbdbdb 12.58%,#dfdfdf 16.77%,#e3e3e3 20.96%,#e6e6e6 25.16%,#e8e8e8 29.35%,#eaeaea 33.54%,#ececec 37.74%,#ededed 41.93%,#ededed 46.12%,#eeeeee 50.00%,#ededed 53.88%,#ededed 58.07%,#ececec 62.26%,#eaeaea 66.46%,#e8e8e8 70.65%,#e6e6e6 74.84%,#e3e3e3 79.04%,#dfdfdf 83.23%,#dbdbdb 87.42%,#d6d6d6 91.61%,#d1d1d1 95.81%,#cbcbcb 99.79%)"></div>
<div style="top:288px;height:4px;background:linear-gradient(90deg,#cbcbcb 0.21%,#d1d1d1 4.19%,#d6d6d6 8.39%,#dbdbdb 12.58%,#dfdfdf 16.77%,#e2e2e2 20.96%,#e5e5e5 25.16%,#e8e8e8 29.35%,#eaeaea 33.54%,#ebebeb 37.74%,#ededed 41.93%,#ededed 46.12%,#ededed 50.00%,#ededed 53.88%,#ededed 58.07%,#ebebeb 62.26%,#eaeaea 66.46%,#e8e8e8 70.65%,#e5e5e5 74.84%,#e2e2e2 79.04%,#dfdfdf 83.23%,#dbdbdb 87.42%,#d6d6d6 91.61%,#d1d1d1 95.81%,#cbcbcb 99.79%)"></div>
<div style="top:292px;height:4px;background:linear-gradient(90deg,#cbcbcb 0.21%,#d1d1d1 4.19%,#d6d6d6 8.39%,#dbdbdb 12.58%,#dfdfdf 16.77%,#e2e2e2 20.96%,#e5e5e5 25.16%,#e8e8e8 29.35%,#eaeaea 33.54%,#ebebeb 37.74%,#ececec 41.93%,#ededed 46.12%,#ededed 50.00%,#ededed 53.88%,#ececec 58.07%,#ebebeb 62.26%,#eaeaea 66.46%,#e8e8e8 70.65%,#e5e5e5 74.84%,#e2e2e2 79.04%,#dfdfdf 83.23%,#dbdbdb 87.42%,#d6d6d6 91.61%,#d1d1d1 95.81%,#cbcbcb 99.79%)"></div>
<div style="top:296px;height:4px;background:linear-gradient(90deg,#cbcbcb 0.21%,#d1d1d1 4.19%,#d6d6d6 8.39%,#dbdbdb 12.58%,#dfdfdf 16.77%,#e2e2e2 20.96%,#e5e5e5 25.16%,#e7e7e7 29.35%,#e9e9e9 33.54%,#ebebeb 37.74%,#ececec 41.93%,#ededed 46.12%,#ededed 50.00%,#ededed 53.88%,#ececec 58.07%,#ebebeb 62.26%,#e9e9e9 66.46%,#e7e7e7 70.65%,#e5e5e5 74.84%,#e2e2e2 79.04%,#dfdfdf 83.23%,#dbdbdb 87.42%,#d6d6d6 91.61%,#d1d1d1 95.81%,#cbcbcb 99.79%)"></div>
<div style="top:300px;height:4px;background:linear-gradient(90deg,#cbcbcb 0.21%,#d1d1d1 4.19%,#d6d6d6 8.39%,#dadada 12.58%,#dedede 16.77%,#e2e2e2 20.96%,#e5e5e5 25.16%,#e7e7e7 29.35%,#e9e9e9 33.54%,#ebebeb 37.74%,#ececec 41.93%,#ececec 46.12%,#ededed 50.00%,#ececec 53.88%,#ececec 58.07%,#ebebeb 62.26%,#e9e9e9 66.46%,#e7e7e7 70.65%,#e5e5e5 74.84%,#e2e2e2 79.04%,#dedede 83.23%,#dadada 87.42%,#d6d6d6 91.61%,#d1d1d1 95.81%,#cbcbcb 99.79%)"></div>
<div style="top:304px;height:4px;background:linear-gradient(90deg,#cbcbcb 0.21%,#d1d1d1 4.19%,#d6d6d6 8.39%,#dadada 12.58%,#dedede 16.77%,#e2e2e2 20.96%,#e4e4e4 25.16%,#e7e7e7 29.35%,#e9e9e9 33.54%,#eaeaea 37.74%,#ebebeb 41.93%,#ececec 46.12%,#ececec 50.00%,#ececec 53.88%,#ebebeb 58.07%,#eaeaea 62.26%,#e9e9e9 66.46%,#e7e7e7 70.65%,#e4e4e4 74.84%,#e2e2e2 79.04%,#dedede 83.23%,#dadada 87.42%,#d6d6d6 91.61%,#d1d1d1 95.81%,#cbcbcb 99.79%)"></div>
<div style="top:308px;height:4px;background:linear-gradient(90deg,#cbcbcb 0.21%,#d0d0d0 4.19%,#d5d5d5 8.39%,#dadada 12.58%,#dedede 16.77%,#e1e1e1 20.96%,#e4e4e4 25.16%,#e7e7e7 29.35%,#e9e9e9 33.54%,#eaeaea 37.74%,#ebebeb 41.93%,#ececec 46.12%,#ececec 50.00%,#ececec 53.88%,#ebebeb 58.07%,#eaeaea 62.26%,#e9e9e9 66.46%,#e7e7e7 70.65%,#e4e4e4 74.84%,#e1e1e1 79.04%,#dedede 83.23%,#dadada 87.42%,#d5d5d5 91.61%,#d0d0d0 95.81%,#cbcbcb 99.79%)"></div>
<div style="top:312px;height:4px;background:linear-gradient(90deg,#cbcbcb 0.21%,#d0d0d0 4.19%,#d5d5d5 8.39%,#dadada 12.58%,#dedede 16.77%,#e1e1e1 20.96%,#e4e4e4 25.16%,#e6e6e6 29.35%,#e8e8e8 33.54%,#eaeaea 37.74%,#ebebeb 41.93%,#ececec 46.12%,#ececec 50.00%,#ececec 53.88%,#ebebeb 58.07%,#eaeaea 62.26%,#e8e8e8 66.46%,#e6e6e6 70.65%,#e4e4e4 74.84%,#e1e1e1 79.04%,#dedede 83.23%,#dadada 87.42%,#d5d5d5 91.61%,#d0d0d0 95.81%,#cbcbcb 99.79%)"></div>
<div style="top:316px;height:4px;background:linear-gradient(90deg,#cbcbcb 0.21%,#d0d0d0 4.19%,#d5d5d5 8.39%,#dadada 12.58%,#dedede 16.77%,#e1e1e1 20.96%,#e4e4e4 25.16%,#e6e6e6 29.35%,#e8e8e8 33.54%,#eaeaea 37.74%,#ebebeb 41.93%,#ebebeb 46.12%,#ebebeb 50.00%,#ebebeb 53.88%,#ebebeb 58.07%,#eaeaea 62.26%,#e8e8e8 66.46%,#e6e6e6 70.65%,#e4e4e4 74.84%,#e1e1e1 79.04%,#dedede 83.23%,#dadada 87.42%,#d5d5d5 91.61%,#d0d0d0 95.81%,#cbcbcb 99.79%)"></div>
<div style="top:320px;height:4px;background:linear-gradient(90deg,#cbcbcb 0.21%,#d0d0d0 4.19%,#d5d5d5 8.39%,#d9d9d9 12.58%,#dddddd 16.77%,#e1e1e1 20.96%,#e4e4e4 25.16%,#e6e6e6 29.35%,#e8e8e8 33.54%,#e9e9e9 37.74%,#eaeaea 41.93%,#ebebeb 46.12%,#ebebeb 50.00%,#ebebeb 53.88%,#eaeaea 58.07%,#e9e9e9 62.26%,#e8e8e8 66.46%,#e6e6e6 70.65%,#e4e4e4 74.84%,#e1e1e1 79.04%,#dddddd 83.23%,#d9d9d9 87.42%,#d5d5d5 91.61%,#d0d0d0 95.81%,#cbcbcb 99.79%)"></div>
<div style="top:324px;height:4px;background:linear-gradient(90deg,#cacaca 0.21%,#d0d0d0 4.19%,#d5d5d5 8.39%,#d9d9d9 12.58%,#dddddd 16.77%,#e0e0e0 20.96%,#e3e3e3 25.16%,#e6e6e6 29.35%,#e8e8e8 33.54%,#e9e9e9 37.74%,#eaeaea 41.93%,#ebebeb 46.12%,#ebebeb 50.00%,#ebebeb 53.88%,#eaeaea 58.07%,#e9e9e9 62.26%,#e8e8e8 66.46%,#e6e6e6 70.65%,#e3e3e3 74.84%,#e0e0e0 79.04%,#dddddd 83.23%,#d9d9d9 87.42%,#d5d5d5 91.61%,#d0d0d0 95.81%,#cacaca 99.79%)"></div>
<div style="top:328px;height:4px;background:linear-gradient(90deg,#cacaca 0.21%,#d0d0d0 4.19%,#d5d5d5 8.39%,#d9d9d9 12.58%,#dddddd 16.77%,#e0e0e0 20.96%,#e3e3e3 25.16%,#e5e5e5 29.35%,#e7e7e7 33.54%,#e9e9e9 37.74%,#eaeaea 41.93%,#eaeaea 46.12%,#ebebeb 50.00%,#eaeaea 53.88%,#eaeaea 58.07%,#e9e9e9 62.26%,#e7e7e7 66.46%,#e5e5e5 70.65%,#e3e3e3 74.84%,#e0e0e0 79.04%,#dddddd 83.23%,#d9d9d9 87.42%,#d5d5d5 91.61%,#d0d0d0 95.81%,#cacaca 99.79%)"></div>
<div style="top:332px;height:4px;background:linear-gradient(90deg,#cacaca 0.21%,#d0d0d0 4.19%,#d4d4d4 8.39%,#d9d9d9 12.58%,#dddddd 16.77%,#e0e0e0 20.96%,#e3e3e3 25.16%,#e5e5e5 29.35%,#e7e7e7 33.54%,#e8e8e8 37.74%,#e9e9e9 41.93%,#eaeaea 46.12%,#eaeaea 50.00%,#eaeaea 53.88%,#e9e9e9 58.07%,#e8e8e8 62.26%,#e7e7e7 66.46%,#e5e5e5 70.65%,#e3e3e3 74.84%,#e0e0e0 79.04%,#dddddd 83.23%,#d9d9d9 87.42%,#d4d4d4 91.61%,#d0d0d0 95.81%,#cacaca 99.79%)"></div>
<div style="top:336px;height:4px;background:linear-gradient(90deg,#cacaca 0.21%,#cfcfcf 4.19%,#d4d4d4 8.39%,#d9d9d9 12.58%,#dcdcdc 16.77%,#e0e0e0 20.96%,#e3e3e3 25.16%,#e5e5e5 29.35%,#e7e7e7 33.54%,#e8e8e8 37.74%,#e9e9e9 41.93%,#eaeaea 46.12%,#eaeaea 50.00%,#eaeaea 53.88%,#e9e9e9 58.07%,#e8e8e8 62.26%,#e7e7e7 66.46%,#e5e5e5 70.65%,#e3e3e3 74.84%,#e0e0e0 79.04%,#dcdcdc 83.23%,#d9d9d9 87.42%,#d4d4d4 91.61%,#cfcfcf 95.81%,#cacaca 99.79%)"></div>
<div style="top:340px;height:4px;background:linear-gradient(90deg,#cacaca 0.21%,#cfcfcf 4.19%,#d4d4d4 8.39%,#d8d8d8 12.58%,#dcdcdc 16.77%,#dfdfdf 20.96%,#e2e2e2 25.16%,#e5e5e5 29.35%,#e6e6e6 33.54%,#e8e8e8 37.74%,#e9e9e9 41.93%,#eaeaea 46.12%,#eaeaea 50.00%,#eaeaea 53.88%,#e9e9e9 58.07%,#e8e8e8 62.26%,#e6e6e6 66.46%,#e5e5e5 70.65%,#e2e2e2 74.84%,#dfdfdf 79.04%,#dcdcdc 83.23%,#d8d8d8 87.42%,#d4d4d4 91.61%,#cfcfcf 95.81%,#cacaca 99.79%)"></div>
<div style="top:344px;height:4px;background:linear-gradient(90deg,#cacaca 0.21%,#cfcfcf 4.19%,#d4d4d4 8.39%,#d8d8d8 12.58%,#dcdcdc 16.77%,#dfdfdf 20.96%,#e2e2e2 25.16%,#e4e4e4 29.35%,#e6e6e6 33.54%,#e8e8e8 37.74%,#e9e9e9 41.93%,#e9e9e9 46.12%,#e9e9e9 50.00%,#e9e9e9 53.88%,#e9e9e9 58.07%,#e8e8e8 62.26%,#e6e6e6 66.46%,#e4e4e4 70.65%,#e2e2e2 74.84%,#dfdfdf 79.04%,#dcdcdc 83.23%,#d8d8d8 87.42%,#d4d4d4 91.61%,#cfcfcf 95.81%,#cacaca 99.79%)"></div>
<div style="top:348px;height:4px;background:linear-gradient(90deg,#cacaca 0.21%,#cfcfcf 4.19%,#d4d4d4 8.39%,#d8d8d8 12.58%,#dcdcdc 16.77%,#dfdfdf 20.96%,#e2e2e2 25.16%,#e4e4e4 29.35%,#e6e6e6 33.54%,#e7e7e7 37.74%,#e8e8e8 41.93%,#e9e9e9 46.12%,#e9e9e9 50.00%,#e9e9e9 53.88%,#e8e8e8 58.07%,#e7e7e7 62.26%,#e6e6e6 66.46%,#e4e4e4 70.65%,#e2e2e2 74.84%,#dfdfdf 79.04%,#dcdcdc 83.23%,#d8d8d8 87.42%,#d4d4d4 91.61%,#cfcfcf 95.81%,#cacaca 99.79%)"></div>
<div style="top:352px;height:4px;background:linear-gradient(90deg,#cacaca 0.21%,#cfcfcf 4.19%,#d4d4d4 8.39%,#d8d8d8 12.58%,#dcdcdc 16.77%,#dfdfdf 20.96%,#e2e2e2 25.16%,#e4e4e4 29.35%,#e6e6e6 33.54%,#e7e7e7 37.74%,#e8e8e8 41.93%,#e9e9e9 46.12%,#e9e9e9 50.00%,#e9e9e9 53.88%,#e8e8e8 58.07%,#e7e7e7 62.26%,#e6e6e6 66.46%,#e4e4e4 70.65%,#e2e2e2 74.84%,#dfdfdf 79.04%,#dcdcdc 83.23%,#d8d8d8 87.42%,#d4d4d4 91.61%,#cfcfcf 95.81%,#cacaca 99.79%)"></div>
<div style="top:356px;height:4px;background:linear-gradient(90deg,#cacaca 0.21%,#cfcfcf 4.19%,#d3d3d3 8.39%,#d8d8d8 12.58%,#dbdbdb 16.77%,#dfdfdf 20.96%,#e1e1e1 25.16%,#e4e4e4 29.35%,#e5e5e5 33.54%,#e7e7e7 37.74%,#e8e8e8 41.93%,#e8e8e8 46.12%,#e9e9e9 50.00%,#e8e8e8 53.88%,#e8e8e8 58.07%,#e7e7e7 62.26%,#e5e5e5 66.46%,#e4e4e4 70.65%,#e1e1e1 74.84%,#dfdfdf 79.04%,#dbdbdb 83.23%,#d8d8d8 87.42%,#d3d3d3 91.61%,#cfcfcf 95.81%,#cacaca 99.79%)"></div>
<div style="top:360px;height:4px;background:linear-gradient(90deg,#c9c9c9 0.21%,#cecece 4.19%,#d3d3d3 8.39%,#d7d7d7 12.58%,#dbdbdb 16.77%,#dedede 20.96%,#e1e1e1 25.16%,#e3e3e3 29.35%,#e5e5e5 33.54%,#e7e7e7 37.74%,#e8e8e8 41.93%,#e8e8e8 46.12%,#e8e8e8 50.00%,#e8e8e8 53.88%,#e8e8e8 58.07%,#e7e7e7 62.26%,#e5e5e5 66.46%,#e3e3e3 70.65%,#e1e1e1 74.84%,#dedede 79.04%,#dbdbdb 83.23%,#d7d7d7 87.42%,#d3d3d3 91.61%,#cecece 95.81%,#c9c9c9 99.79%)"></div>
<div style="top:364px;height:4px;background:linear-gradient(90deg,#c9c9c9 0.21%,#cecece 4.19%,#d3d3d3 8.39%,#d7d7d7 12.58%,#dbdbdb 16.77%,#dedede 20.96%,#e1e1e1 25.16%,#e3e3e3 29.35%,#e5e5e5 33.54%,#e6e6e6 37.74%,#e7e7e7 41.93%,#e8e8e8 46.12%,#e8e8e8 50.00%,#e8e8e8 53.88%,#e7e7e7 58.07%,#e6e6e6 62.26%,#e5e5e5 66.46%,#e3e3e3 70.65%,#e1e1e1 74.84%,#dedede 79.04%,#dbdbdb 83.23%,#d7d7d7 87.42%,#d3d3d3 91.61%,#cecece 95.81%,#c9c9c9 99.79%)"></div>
<div style="top:368px;height:4px;background:linear-gradient(90deg,#c9c9c9 0.21%,#cecece 4.19%,#d3d3d3 8.39%,#d7d7d7 12.58%,#dbdbdb 16.77%,#dedede 20.96%,#e1e1e1 25.16%,#e3e3e3 29.35%,#e5e5e5 33.54%,#e6e6e6 37.74%,#e7e7e7 41.93%,#e8e8e8 46.12%,#e8e8e8 50.00%,#e8e8e8 53.88%,#e7e7e7 58.07%,#e6e6e6 62.26%,#e5e5e5 66.46%,#e3e3e3 70.65%,#e1e1e1 74.84%,#dedede 79.04%,#dbdbdb 83.23%,#d7d7d7 87.42%,#d3d3d3 91.61%,#cecece 95.81%,#c9c9c9 99.79%)"></div>
<div style="top:372px;height:4px;background:linear-gradient(90deg,#c9c9c9 0.21%,#cecece 4.19%,#d3d3d3 8.39%,#d7d7d7 12.58%,#dadada 16.77%,#dedede 20.96%,#e0e0e0 25.16%,#e2e2e2 29.35%,#e4e4e4 33.54%,#e6e6e6 37.74%,#e7e7e7 41.93%,#e7e7e7 46.12%,#e7e7e7 50.00%,#e7e7e7 53.88%,#e7e7e7 58.07%,#e6e6e6 62.26%,#e4e4e4 66.46%,#e2e2e2 70.65%,#e0e0e0 74.84%,#dedede 79.04%,#dadada 83.23%,#d7d7d7 87.42%,#d3d3d3 91.61%,#cecece 95.81%,#c9c9c9 99.79%)"></div>
<div style="top:376px;height:4px;background:linear-gradient(90deg,#c9c9c9 0.21%,#cecece 4.19%,#d3d3d3 8.39%,#d7d7d7 12.58%,#dadada 16.77%,#dddddd 20.96%,#e0e0e0 25.16%,#e2e2e2 29.35%,#e4e4e4 33.54%,#e5e5e5 37.74%,#e6e6e6 41.93%,#e7e7e7 46.12%,#e7e7e7 50.00%,#e7e7e7 53.88%,#e6e6e6 58.07%,#e5e5e5 62.26%,#e4e4e4 66.46%,#e2e2e2 70.65%,#e0e0e0 74.84%,#dddddd 79.04%,#dadada 83.23%,#d7d7d7 87.42%,#d3d3d3 91.61%,#cecece 95.81%,#c9c9c9 99.79%)"></div>
<div style="top:380px;height:4px;background:linear-gradient(90deg,#c9c9c9 0.21%,#cecece 4.19%,#d2d2d2 8.39%,#d6d6d6 12.58%,#dadada 16.77%,#dddddd 20.96%,#e0e0e0 25.16%,#e2e2e2 29.35%,#e4e4e4 33.54%,#e5e5e5 37.74%,#e6e6e6 41.93%,#e7e7e7 46.12%,#e7e7e7 50.00%,#e7e7e7 53.88%,#e6e6e6 58.07%,#e5e5e5 62.26%,#e4e4e4 66.46%,#e2e2e2 70.65%,#e0e0e0 74.84%,#dddddd 79.04%,#dadada 83.23%,#d6d6d6 87.42%,#d2d2d2 91.61%,#cecece 95.81%,#c9c9c9 99.79%)"></div>
<div style="top:384px;height:4px;background:linear-gradient(90deg,#c9c9c9 0.21%,#cecece 4.19%,#d2d2d2 8.39%,#d6d6d6 12.58%,#dadada 16.77%,#dddddd 20.96%,#dfdfdf 25.16%,#e2e2e2 29.35%,#e3e3e3 33.54%,#e5e5e5 37.74%,#e6e6e6 41.93%,#e6e6e6 46.12%,#e7e7e7 50.00%,#e6e6e6 53.88%,#e6e6e6 58.07%,#e5e5e5 62.26%,#e3e3e3 66.46%,#e2e2e2 70.65%,#dfdfdf 74.84%,#dddddd 79.04%,#dadada 83.23%,#d6d6d6 87.42%,#d2d2d2 91.61%,#cecece 95.81%,#c9c9c9 99.79%)"></div>
<div style="top:388px;height:4px;background:linear-gradient(90deg,#c9c9c9 0.21%,#cdcdcd 4.19%,#d2d2d2 8.39%,#d6d6d6 12.58%,#dadada 16.77%,#dddddd 20.96%,#dfdfdf 25.16%,#e1e1e1 29.35%,#e3e3e3 33.54%,#e5e5e5 37.74%,#e6e6e6 41.93%,#e6e6e6 46.12%,#e6e6e6 50.00%,#e6e6e6 53.88%,#e6e6e6 58.07%,#e5e5e5 62.26%,#e3e3e3 66.46%,#e1e1e1 70.65%,#dfdfdf 74.84%,#dddddd 79.04%,#dadada 83.23%,#d6d6d6 87.42%,#d2d2d2 91.61%,#cdcdcd 95.81%,#c9c9c9 99.79%)"></div>
<div style="top:392px;height:4px;background:linear-gradient(90deg,#c8c8c8 0.21%,#cdcdcd 4.19%,#d2d2d2 8.39%,#d6d6d6 12.58%,#d9d9d9 16.77%,#dcdcdc 20.96%,#dfdfdf 25.16%,#e1e1e1 29.35%,#e3e3e3 33.54%,#e4e4e4 37.74%,#e5e5e5 41.93%,#e6e6e6 46.12%,#e6e6e6 50.00%,#e6e6e6 53.88%,#e5e5e5 58.07%,#e4e4e4 62.26%,#e3e3e3 66.46%,#e1e1e1 70.65%,#dfdfdf 74.84%,#dcdcdc 79.04%,#d9d9d9 83.23%,#d6d6d6 87.42%,#d2d2d2 91.61%,#cdcdcd 95.81%,#c8c8c8 99.79%)"></div>
<div style="top:396px;height:4px;background:linear-gradient(90deg,#c8c8c8 0.21%,#cdcdcd 4.19%,#d2d2d2 8.39%,#d6d6d6 12.58%,#d9d9d9 16.77%,#dcdcdc 20.96%,#dfdfdf 25.16%,#e1e1e1 29.35%,#e3e3e3 33.54%,#e4e4e4 37.74%,#e5e5e5 41.93%,#e6e6e6 46.12%,#e6e6e6 50.00%,#e6e6e6 53.88%,#e5e5e5 58.07%,#e4e4e4 62.26%,#e3e3e3 66.46%,#e1e1e1 70.65%,#dfdfdf 74.84%,#dcdcdc 79.04%,#d9d9d9 83.23%,#d6d6d6 87.42%,#d2d2d2 91.61%,#cdcdcd 95.81%,#c8c8c8 99.79%)"></div>
<div style="top:400px;height:4px;background:linear-gradient(90deg,#c8c8c8 0.21%,#cdcdcd 4.19%,#d1d1d1 8.39%,#d5d5d5 12.58%,#d9d9d9 16.77%,#dcdcdc 20.96%,#dedede 25.16%,#e1e1e1 29.35%,#e2e2e2 33.54%,#e4e4e4 37.74%,#e5e5e5 41.93%,#e5e5e5 46.12%,#e5e5e5 50.00%,#e5e5e5 53.88%,#e5e5e5 58.07%,#e4e4e4 62.26%,#e2e2e2 66.46%,#e1e1e1 70.65%,#dedede 74.84%,#dcdcdc 79.04%,#d9d9d9 83.23%,#d5d5d5 87.42%,#d1d1d1 91.61%,#cdcdcd 95.81%,#c8c8c8 99.79%)"></div>
<div style="top:404px;height:4px;background:linear-gradient(90deg,#c8c8c8 0.21%,#cdcdcd 4.19%,#d1d1d1 8.39%,#d5d5d5 12.58%,#d9d9d9 16.77%,#dcdcdc 20.96%,#dedede 25.16%,#e0e0e0 29.35%,#e2e2e2 33.54%,#e3e3e3 37.74%,#e4e4e4 41.93%,#e5e5e5 46.12%,#e5e5e5 50.00%,#e5e5e5 53.88%,#e4e4e4 58.07%,#e3e3e3 62.26%,#e2e2e2 66.46%,#e0e0e0 70.65%,#dedede 74.84%,#dcdcdc 79.04%,#d9d9d9 83.23%,#d5d5d5 87.42%,#d1d1d1 91.61%,#cdcdcd 95.81%,#c8c8c8 99.79%)"></div>
<div style="top:408px;height:4px;background:linear-gradient(90deg,#c8c8c8 0.21%,#cdcdcd 4.19%,#d1d1d1 8.39%,#d5d5d5 12.58%,#d8d8d8 16.77%,#dbdbdb 20.96%,#dedede 25.16%,#e0e0e0 29.35%,#e2e2e2 33.54%,#e3e3e3 37.74%,#e4e4e4 41.93%,#e5e5e5 46.12%,#e5e5e5 50.00%,#e5e5e5 53.88%,#e4e4e4 58.07%,#e3e3e3 62.26%,#e2e2e2 66.46%,#e0e0e0 70.65%,#dedede 74.84%,#dbdbdb 79.04%,#d8d8d8 83.23%,#d5d5d5 87.42%,#d1d1d1 91.61%,#cdcdcd 95.81%,#c8c8c8 99.79%)"></div>
<div style="top:412px;height:4px;background:linear-gradient(90deg,#c8c8c8 0.21%,#cccccc 4.19%,#d1d1d1 8.39%,#d5d5d5 12.58%,#d8d8d8 16.77%,#dbdbdb 20.96%,#dedede 25.16%,#e0e0e0 29.35%,#e2e2e2 33.54%,#e3e3e3 37.74%,#e4e4e4 41.93%,#e4e4e4 46.12%,#e5e5e5 50.00%,#e4e4e4 53.88%,#e4e4e4 58.07%,#e3e3e3 62.26%,#e2e2e2 66.46%,#e0e0e0 70.65%,#dedede 74.84%,#dbdbdb 79.04%,#d8d8d8 83.23%,#d5d5d5 87.42%,#d1d1d1 91.61%,#cccccc 95.81%,#c8c8c8 99.79%)"></div>
<div style="top:416px;height:4px;background:linear-gradient(90deg,#c8c8c8 0.21%,#cccccc 4.19%,#d1d1d1 8.39%,#d5d5d5 12.58%,#d8d8d8 16.77%,#dbdbdb 20.96%,#dddddd 25.16%,#e0e0e0 29.35%,#e1e1e1 33.54%,#e3e3e3 37.74%,#e4e4e4 41.93%,#e4e4e4 46.12%,#e4e4e4 50.00%,#e4e4e4 53.88%,#e4e4e4 58.07%,#e3e3e3 62.26%,#e1e1e1 66.46%,#e0e0e0 70.65%,#dddddd 74.84%,#dbdbdb 79.04%,#d8d8d8 83.23%,#d5d5d5 87.42%,#d1d1d1 91.61%,#cccccc 95.81%,#c8c8c8 99.79%)"></div>
<div style="top:420px;height:4px;background:linear-gradient(90deg,#c7c7c7 0.21%,#cccccc 4.19%,#d0d0d0 8.39%,#d4d4d4 12.58%,#d8d8d8 16.77%,#dbdbdb 20.96%,#dddddd 25.16%,#dfdfdf 29.35%,#e1e1e1 33.54%,#e2e2e2 37.74%,#e3e3e3 41.93%,#e4e4e4 46.12%,#e4e4e4 50.00%,#e4e4e4 53.88%,#e3e3e3 58.07%,#e2e2e2 62.26%,#e1e1e1 66.46%,#dfdfdf 70.65%,#dddddd 74.84%,#dbdbdb 79.04%,#d8d8d8 83.23%,#d4d4d4 87.42%,#d0d0d0 91.61%,#cccccc 95.81%,#c7c7c7 99.79%)"></div>
<div style="top:424px;height:4px;background:linear-gradient(90deg,#c7c7c7 0.21%,#cccccc 4.19%,#d0d0d0 8.39%,#d4d4d4 12.58%,#d7d7d7 16.77%,#dadada 20.96%,#dddddd 25.16%,#dfdfdf 29.35%,#e1e1e1 33.54%,#e2e2e2 37.74%,#e3e3e3 41.93%,#e4e4e4 46.12%,#e4e4e4 50.00%,#e4e4e4 53.88%,#e3e3e3 58.07%,#e2e2e2 62.26%,#e1e1e1 66.46%,#dfdfdf 70.65%,#dddddd 74.84%,#dadada 79.04%,#d7d7d7 83.23%,#d4d4d4 87.42%,#d0d0d0 91.61%,#cccccc 95.81%,#c7c7c7 99.79%)"></div>
<div style="top:428px;height:4px;background:linear-gradient(90deg,#c7c7c7 0.21%,#cccccc 4.19%,#d0d0d0 8.39%,#d4d4d4 12.58%,#d7d7d7 16.77%,#dadada 20.96%,#dddddd 25.16%,#dfdfdf 29.35%,#e0e0e0 33.54%,#e2e2e2 37.74%,#e3e3e3 41.93%,#e3e3e3 46.12%,#e3e3e3 50.00%,#e3e3e3 53.88%,#e3e3e3 58.07%,#e2e2e2 62.26%,#e0e0e0 66.46%,#dfdfdf 70.65%,#dddddd 74.84%,#dadada 79.04%,#d7d7d7 83.23%,#d4d4d4 87.42%,#d0d0d0 91.61%,#cccccc 95.81%,#c7c7c7 99.79%)"></div>
<div style="top:432px;height:4px;background:linear-gradient(90deg,#c7c7c7 0.21%,#cccccc 4.19%,#d0d0d0 8.39%,#d4d4d4 12.58%,#d7d7d7 16.77%,#dadada 20.96%,#dcdcdc 25.16%,#dfdfdf 29.35%,#e0e0e0 33.54%,#e2e2e2 37.74%,#e2e2e2 41.93%,#e3e3e3 46.12%,#e3e3e3 50.00%,#e3e3e3 53.88%,#e2e2e2 58.07%,#e2e2e2 62.26%,#e0e0e0 66.46%,#dfdfdf 70.65%,#dcdcdc 74.84%,#dadada 79.04%,#d7d7d7 83.23%,#d4d4d4 87.42%,#d0d0d0 91.61%,#cccccc 95.81%,#c7c7c7 99.79%)"></div>
<div style="top:436px;height:4px;background:linear-gradient(90deg,#c7c7c7 0.21%,#cbcbcb 4.19%,#d0d0d0 8.39%,#d3d3d3 12.58%,#d7d7d7 16.77%,#dadada 20.96%,#dcdcdc 25.16%,#dedede 29.35%,#e0e0e0 33.54%,#e1e1e1 37.74%,#e2e2e2 41.93%,#e3e3e3 46.12%,#e3e3e3 50.00%,#e3e3e3 53.88%,#e2e2e2 58.07%,#e1e1e1 62.26%,#e0e0e0 66.46%,#dedede 70.65%,#dcdcdc 74.84%,#dadada 79.04%,#d7d7d7 83.23%,#d3d3d3 87.42%,#d0d0d0 91.61%,#cbcbcb 95.81%,#c7c7c7 99.79%)"></div>
<div style="top:440px;height:4px;background:linear-gradient(90deg,#c7c7c7 0.21%,#cbcbcb 4.19%,#cfcfcf 8.39%,#d3d3d3 12.58%,#d7d7d7 16.77%,#d9d9d9 20.96%,#dcdcdc 25.16%,#dedede 29.35%,#e0e0e0 33.54%,#e1e1e1 37.74%,#e2e2e2 41.93%,#e2e2e2 46.12%,#e3e3e3 50.00%,#e2e2e2 53.88%,#e2e2e2 58.07%,#e1e1e1 62.26%,#e0e0e0 66.46%,#dedede 70.65%,#dcdcdc 74.84%,#d9d9d9 79.04%,#d7d7d7 83.23%,#d3d3d3 87.42%,#cfcfcf 91.61%,#cbcbcb 95.81%,#c7c7c7 99.79%)"></div>
<div style="top:444px;height:4px;background:linear-gradient(90deg,#c6c6c6 0.21%,#cbcbcb 4.19%,#cfcfcf 8.39%,#d3d3d3 12.58%,#d6d6d6 16.77%,#d9d9d9 20.96%,#dcdcdc 25.16%,#dedede 29.35%,#dfdfdf 33.54%,#e1e1e1 37.74%,#e2e2e2 41.93%,#e2e2e2 46.12%,#e2e2e2 50.00%,#e2e2e2 53.88%,#e2e2e2 58.07%,#e1e1e1 62.26%,#dfdfdf 66.46%,#dedede 70.65%,#dcdcdc 74.84%,#d9d9d9 79.04%,#d6d6d6 83.23%,#d3d3d3 87.42%,#cfcfcf 91.61%,#cbcbcb 95.81%,#c6c6c6 99.79%)"></div>
<div style="top:448px;height:4px;background:linear-gradient(90deg,#c6c6c6 0.21%,#cbcbcb 4.19%,#cfcfcf 8.39%,#d3d3d3 12.58%,#d6d6d6 16.77%,#d9d9d9 20.96%,#dbdbdb 25.16%,#dddddd 29.35%,#dfdfdf 33.54%,#e0e0e0 37.74%,#e1e1e1 41.93%,#e2e2e2 46.12%,#e2e2e2 50.00%,#e2e2e2 53.88%,#e1e1e1 58.07%,#e0e0e0 62.26%,#dfdfdf 66.46%,#dddddd 70.65%,#dbdbdb 74.84%,#d9d9d9 79.04%,#d6d6d6 83.23%,#d3d3d3 87.42%,#cfcfcf 91.61%,#cbcbcb 95.81%,#c6c6c6 99.79%)"></div>
<div style="top:452px;height:4px;background:linear-gradient(90deg,#c6c6c6 0.21%,#cbcbcb 4.19%,#cfcfcf 8.39%,#d3d3d3 12.58%,#d6d6d6 16.77%,#d9d9d9 20.96%,#dbdbdb 25.16%,#dddddd 29.35%,#dfdfdf 33.54%,#e0e0e0 37.74%,#e1e1e1 41.93%,#e2e2e2 46.12%,#e2e2e2 50.00%,#e2e2e2 53.88%,#e1e1e1 58.07%,#e0e0e0 62.26%,#dfdfdf 66.46%,#dddddd 70.65%,#dbdbdb 74.84%,#d9d9d9 79.04%,#d6d6d6 83.23%,#d3d3d3 87.42%,#cfcfcf 91.61%,#cbcbcb 95.81%,#c6c6c6 99.79%)"></div>
<div style="top:456px;height:4px;background:linear-gradient(90deg,#c6c6c6 0.21%,#cacaca 4.19%,#cfcfcf 8.39%,#d2d2d2 12.58%,#d6d6d6 16.77%,#d8d8d8 20.96%,#dbdbdb 25.16%,#dddddd 29.35%,#dfdfdf 33.54%,#e0e0e0 37.74%,#e1e1e1 41.93%,#e1e1e1 46.12%,#e1e1e1 50.00%,#e1e1e1 53.88%,#e1e1e1 58.07%,#e0e0e0 62.26%,#dfdfdf 66.46%,#dddddd 70.65%,#dbdbdb 74.84%,#d8d8d8 79.04%,#d6d6d6 83.23%,#d2d2d2 87.42%,#cfcfcf 91.61%,#cacaca 95.81%,#c6c6c6 99.79%)"></div>
<div style="top:460px;height:4px;background:linear-gradient(90deg,#c6c6c6 0.21%,#cacaca 4.19%,#cecece 8.39%,#d2d2d2 12.58%,#d5d5d5 16.77%,#d8d8d8 20.96%,#dbdbdb 25.16%,#dddddd 29.35%,#dedede 33.54%,#e0e0e0 37.74%,#e0e0e0 41.93%,#e1e1e1 46.12%,#e1e1e1 50.00%,#e1e1e1 53.88%,#e0e0e0 58.07%,#e0e0e0 62.26%,#dedede 66.46%,#dddddd 70.65%,#dbdbdb 74.84%,#d8d8d8 79.04%,#d5d5d5 83.23%,#d2d2d2 87.42%,#cecece 91.61%,#cacaca 95.81%,#c6c6c6 99.79%)"></div>
<div style="top:464px;height:4px;background:linear-gradient(90deg,#c6c6c6 0.21%,#cacaca 4.19%,#cecece 8.39%,#d2d2d2 12.58%,#d5d5d5 16.77%,#d8d8d8 20.96%,#dadada 25.16%,#dcdcdc 29.35%,#dedede 33.54%,#dfdfdf 37.74%,#e0e0e0 41.93%,#e1e1e1 46.12%,#e1e1e1 50.00%,#e1e1e1 53.88%,#e0e0e0 58.07%,#dfdfdf 62.26%,#dedede 66.46%,#dcdcdc 70.65%,#dadada 74.84%,#d8d8d8 79.04%,#d5d5d5 83.23%,#d2d2d2 87.42%,#cecece 91.61%,#cacaca 95.81%,#c6c6c6 99.79%)"></div>
<div style="top:468px;height:4px;background:linear-gradient(90deg,#c6c6c6 0.21%,#cacaca 4.19%,#cecece 8.39%,#d2d2d2 12.58%,#d5d5d5 16.77%,#d8d8d8 20.96%,#dadada 25.16%,#dcdcdc 29.35%,#dedede 33.54%,#dfdfdf 37.74%,#e0e0e0 41.93%,#e0e0e0 46.12%,#e1e1e1 50.00%,#e0e0e0 53.88%,#e0e0e0 58.07%,#dfdfdf 62.26%,#dedede 66.46%,#dcdcdc 70.65%,#dadada 74.84%,#d8d8d8 79.04%,#d5d5d5 83.23%,#d2d2d2 87.42%,#cecece 91.61%,#cacaca 95.81%,#c6c6c6 99.79%)"></div>
<div style="top:472px;height:4px;background:linear-gradient(90deg,#c5c5c5 0.21%,#cacaca 4.19%,#cecece 8.39%,#d1d1d1 12.58%,#d5d5d5 16.77%,#d7d7d7 20.96%,#dadada 25.16%,#dcdcdc 29.35%,#dddddd 33.54%,#dfdfdf 37.74%,#e0e0e0 41.93%,#e0e0e0 46.12%,#e0e0e0 50.00%,#e0e0e0 53.88%,#e0e0e0 58.07%,#dfdfdf 62.26%,#dddddd 66.46%,#dcdcdc 70.65%,#dadada 74.84%,#d7d7d7 79.04%,#d5d5d5 83.23%,#d1d1d1 87.42%,#cecece 91.61%,#cacaca 95.81%,#c5c5c5 99.79%)"></div>
<div style="top:476px;height:4px;background:linear-gradient(90deg,#c5c5c5 0.21%,#cacaca 4.19%,#cecece 8.39%,#d1d1d1 12.58%,#d4d4d4 16.77%,#d7d7d7 20.96%,#dadada 25.16%,#dcdcdc 29.35%,#dddddd 33.54%,#dedede 37.74%,#dfdfdf 41.93%,#e0e0e0 46.12%,#e0e0e0 50.00%,#e0e0e0 53.88%,#dfdfdf 58.07%,#dedede 62.26%,#dddddd 66.46%,#dcdcdc 70.65%,#dadada 74.84%,#d7d7d7 79.04%,#d4d4d4 83.23%,#d1d1d1 87.42%,#cecece 91.61%,#cacaca 95.81%,#c5c5c5 99.79%)"></div>
<div style="top:480px;height:4px;background:linear-gradient(90deg,#c5c5c5 0.21%,#c9c9c9 4.19%,#cdcdcd 8.39%,#d1d1d1 12.58%,#d4d4d4 16.77%,#d7d7d7 20.96%,#d9d9d9 25.16%,#dbdbdb 29.35%,#dddddd 33.54%,#dedede 37.74%,#dfdfdf 41.93%,#e0e0e0 46.12%,#e0e0e0 50.00%,#e0e0e0 53.88%,#dfdfdf 58.07%,#dedede 62.26%,#dddddd 66.46%,#dbdbdb 70.65%,#d9d9d9 74.84%,#d7d7d7 79.04%,#d4d4d4 83.23%,#d1d1d1 87.42%,#cdcdcd 91.61%,#c9c9c9 95.81%,#c5c5c5 99.79%)"></div>
<div style="top:484px;height:4px;background:linear-gradient(90deg,#c5c5c5 0.21%,#c9c9c9 4.19%,#cdcdcd 8.39%,#d1d1d1 12.58%,#d4d4d4 16.77%,#d7d7d7 20.96%,#d9d9d9 25.16%,#dbdbdb 29.35%,#dddddd 33.54%,#dedede 37.74%,#dfdfdf 41.93%,#dfdfdf 46.12%,#dfdfdf 50.00%,#dfdfdf 53.88%,#dfdfdf 58.07%,#dedede 62.26%,#dddddd 66.46%,#dbdbdb 70.65%,#d9d9d9 74.84%,#d7d7d7 79.04%,#d4d4d4 83.23%,#d1d1d1 87.42%,#cdcdcd 91.61%,#c9c9c9 95.81%,#c5c5c5 99.79%)"></div>
<div style="top:488px;height:4px;background:linear-gradient(90deg,#c5c5c5 0.21%,#c9c9c9 4.19%,#cdcdcd 8.39%,#d1d1d1 12.58%,#d4d4d4 16.77%,#d6d6d6 20.96%,#d9d9d9 25.16%,#dbdbdb 29.35%,#dcdcdc 33.54%,#dedede 37.74%,#dedede 41.93%,#dfdfdf 46.12%,#dfdfdf 50.00%,#dfdfdf 53.88%,#dedede 58.07%,#dedede 62.26%,#dcdcdc 66.46%,#dbdbdb 70.65%,#d9d9d9 74.84%,#d6d6d6 79.04%,#d4d4d4 83.23%,#d1d1d1 87.42%,#cdcdcd 91.61%,#c9c9c9 95.81%,#c5c5c5 99.79%)"></div>
<div style="top:492px;height:4px;background:linear-gradient(90deg,#c5c5c5 0.21%,#c9c9c9 4.19%,#cdcdcd 8.39%,#d0d0d0 12.58%,#d3d3d3 16.77%,#d6d6d6 20.96%,#d9d9d9 25.16%,#dbdbdb 29.35%,#dcdcdc 33.54%,#dddddd 37.74%,#dedede 41.93%,#dfdfdf 46.12%,#dfdfdf 50.00%,#dfdfdf 53.88%,#dedede 58.07%,#dddddd 62.26%,#dcdcdc 66.46%,#dbdbdb 70.65%,#d9d9d9 74.84%,#d6d6d6 79.04%,#d3d3d3 83.23%,#d0d0d0 87.42%,#cdcdcd 91.61%,#c9c9c9 95.81%,#c5c5c5 99.79%)"></div>
<div style="top:496px;height:4px;background:linear-gradient(90deg,#c4c4c4 0.21%,#c9c9c9 4.19%,#cdcdcd 8.39%,#d0d0d0 12.58%,#d3d3d3 16.77%,#d6d6d6 20.96%,#d8d8d8 25.16%,#dadada 29.35%,#dcdcdc 33.54%,#dddddd 37.74%,#dedede 41.93%,#dedede 46.12%,#dfdfdf 50.00%,#dedede 53.88%,#dedede 58.07%,#dddddd 62.26%,#dcdcdc 66.46%,#dadada 70.65%,#d8d8d8 74.84%,#d6d6d6 79.04%,#d3d3d3 83.23%,#d0d0d0 87.42%,#cdcdcd 91.61%,#c9c9c9 95.81%,#c4c4c4 99.79%)"></div>
<div style="top:500px;height:4px;background:linear-gradient(90deg,#c4c4c4 0.21%,#c8c8c8 4.19%,#cccccc 8.39%,#d0d0d0 12.58%,#d3d3d3 16.77%,#d6d6d6 20.96%,#d8d8d8 25.16%,#dadada 29.35%,#dcdcdc 33.54%,#dddddd 37.74%,#dedede 41.93%,#dedede 46.12%,#dedede 50.00%,#dedede 53.88%,#dedede 58.07%,#dddddd 62.26%,#dcdcdc 66.46%,#dadada 70.65%,#d8d8d8 74.84%,#d6d6d6 79.04%,#d3d3d3 83.23%,#d0d0d0 87.42%,#cccccc 91.61%,#c8c8c8 95.81%,#c4c4c4 99.79%)"></div>
<div style="top:504px;height:4px;background:linear-gradient(90deg,#c4c4c4 0.21%,#c8c8c8 4.19%,#cccccc 8.39%,#d0d0d0 12.58%,#d3d3d3 16.77%,#d5d5d5 20.96%,#d8d8d8 25.16%,#dadada 29.35%,#dbdbdb 33.54%,#dddddd 37.74%,#dddddd 41.93%,#dedede 46.12%,#dedede 50.00%,#dedede 53.88%,#dddddd 58.07%,#dddddd 62.26%,#dbdbdb 66.46%,#dadada 70.65%,#d8d8d8 74.84%,#d5d5d5 79.04%,#d3d3d3 83.23%,#d0d0d0 87.42%,#cccccc 91.61%,#c8c8c8 95.81%,#c4c4c4 99.79%)"></div>
<div style="top:508px;height:4px;background:linear-gradient(90deg,#c4c4c4 0.21%,#c8c8c8 4.19%,#cccccc 8.39%,#cfcfcf 12.58%,#d3d3d3 16.77%,#d5d5d5 20.96%,#d8d8d8 25.16%,#d9d9d9 29.35%,#dbdbdb 33.54%,#dcdcdc 37.74%,#dddddd 41.93%,#dedede 46.12%,#dedede 50.00%,#dedede 53.88%,#dddddd 58.07%,#dcdcdc 62.26%,#dbdbdb 66.46%,#d9d9d9 70.65%,#d8d8d8 74.84%,#d5d5d5 79.04%,#d3d3d3 83.23%,#cfcfcf 87.42%,#cccccc 91.61%,#c8c8c8 95.81%,#c4c4c4 99.79%)"></div>
<div style="top:512px;height:4px;background:linear-gradient(90deg,#c4c4c4 0.21%,#c8c8c8 4.19%,#cccccc 8.39%,#cfcfcf 12.58%,#d2d2d2 16.77%,#d5d5d5 20.96%,#d7d7d7 25.16%,#d9d9d9 29.35%,#dbdbdb 33.54%,#dcdcdc 37.74%,#dddddd 41.93%,#dddddd 46.12%,#dddddd 50.00%,#dddddd 53.88%,#dddddd 58.07%,#dcdcdc 62.26%,#dbdbdb 66.46%,#d9d9d9 70.65%,#d7d7d7 74.84%,#d5d5d5 79.04%,#d2d2d2 83.23%,#cfcfcf 87.42%,#cccccc 91.61%,#c8c8c8 95.81%,#c4c4c4 99.79%)"></div>
<div style="top:516px;height:4px;background:linear-gradient(90deg,#c3c3c3 0.21%,#c8c8c8 4.19%,#cbcbcb 8.39%,#cfcfcf 12.58%,#d2d2d2 16.77%,#d5d5d5 20.96%,#d7d7d7 25.16%,#d9d9d9 29.35%,#dadada 33.54%,#dcdcdc 37.74%,#dddddd 41.93%,#dddddd 46.12%,#dddddd 50.00%,#dddddd 53.88%,#dddddd 58.07%,#dcdcdc 62.26%,#dadada 66.46%,#d9d9d9 70.65%,#d7d7d7 74.84%,#d5d5d5 79.04%,#d2d2d2 83.23%,#cfcfcf 87.42%,#cbcbcb 91.61%,#c8c8c8 95.81%,#c3c3c3 99.79%)"></div>
<div style="top:520px;height:4px;background:linear-gradient(90deg,#c3c3c3 0.21%,#c7c7c7 4.19%,#cbcbcb 8.39%,#cfcfcf 12.58%,#d2d2d2 16.77%,#d4d4d4 20.96%,#d7d7d7 25.16%,#d9d9d9 29.35%,#dadada 33.54%,#dbdbdb 37.74%,#dcdcdc 41.93%,#dddddd 46.12%,#dddddd 50.00%,#dddddd 53.88%,#dcdcdc 58.07%,#dbdbdb 62.26%,#dadada 66.46%,#d9d9d9 70.65%,#d7d7d7 74.84%,#d4d4d4 79.04%,#d2d2d2 83.23%,#cfcfcf 87.42%,#cbcbcb 91.61%,#c7c7c7 95.81%,#c3c3c3 99.79%)"></div>
<div style="top:524px;height:4px;background:linear-gradient(90deg,#c3c3c3 0.21%,#c7c7c7 4.19%,#cbcbcb 8.39%,#cfcfcf 12.58%,#d2d2d2 16.77%,#d4d4d4 20.96%,#d6d6d6 25.16%,#d8d8d8 29.35%,#dadada 33.54%,#dbdbdb 37.74%,#dcdcdc 41.93%,#dcdcdc 46.12%,#dddddd 50.00%,#dcdcdc 53.88%,#dcdcdc 58.07%,#dbdbdb 62.26%,#dadada 66.46%,#d8d8d8 70.65%,#d6d6d6 74.84%,#d4d4d4 79.04%,#d2d2d2 83.23%,#cfcfcf 87.42%,#cbcbcb 91.61%,#c7c7c7 95.81%,#c3c3c3 99.79%)"></div>
<div style="top:528px;height:4px;background:linear-gradient(90deg,#c3c3c3 0.21%,#c7c7c7 4.19%,#cbcbcb 8.39%,#cecece 12.58%,#d1d1d1 16.77%,#d4d4d4 20.96%,#d6d6d6 25.16%,#d8d8d8 29.35%,#dadada 33.54%,#dbdbdb 37.74%,#dcdcdc 41.93%,#dcdcdc 46.12%,#dcdcdc 50.00%,#dcdcdc 53.88%,#dcdcdc 58.07%,#dbdbdb 62.26%,#dadada 66.46%,#d8d8d8 70.65%,#d6d6d6 74.84%,#d4d4d4 79.04%,#d1d1d1 83.23%,#cecece 87.42%,#cbcbcb 91.61%,#c7c7c7 95.81%,#c3c3c3 99.79%)"></div>
<div style="top:532px;height:4px;background:linear-gradient(90deg,#c3c3c3 0.21%,#c7c7c7 4.19%,#cbcbcb 8.39%,#cecece 12.58%,#d1d1d1 16.77%,#d4d4d4 20.96%,#d6d6d6 25.16%,#d8d8d8 29.35%,#d9d9d9 33.54%,#dbdbdb 37.74%,#dbdbdb 41.93%,#dcdcdc 46.12%,#dcdcdc 50.00%,#dcdcdc 53.88%,#dbdbdb 58.07%,#dbdbdb 62.26%,#d9d9d9 66.46%,#d8d8d8 70.65%,#d6d6d6 74.84%,#d4d4d4 79.04%,#d1d1d1 83.23%,#cecece 87.42%,#cbcbcb 91.61%,#c7c7c7 95.81%,#c3c3c3 99.79%)"></div>
<div style="top:536px;height:4px;background:linear-gradient(90deg,#c3c3c3 0.21%,#c7c7c7 4.19%,#cacaca 8.39%,#cecece 12.58%,#d1d1d1 16.77%,#d3d3d3 20.96%,#d6d6d6 25.16%,#d8d8d8 29.35%,#d9d9d9 33.54%,#dadada 37.74%,#dbdbdb 41.93%,#dcdcdc 46.12%,#dcdcdc 50.00%,#dcdcdc 53.88%,#dbdbdb 58.07%,#dadada 62.26%,#d9d9d9 66.46%,#d8d8d8 70.65%,#d6d6d6 74.84%,#d3d3d3 79.04%,#d1d1d1 83.23%,#cecece 87.42%,#cacaca 91.61%,#c7c7c7 95.81%,#c3c3c3 99.79%)"></div>
<div style="top:540px;height:4px;background:linear-gradient(90deg,#c2c2c2 0.21%,#c6c6c6 4.19%,#cacaca 8.39%,#cecece 12.58%,#d1d1d1 16.77%,#d3d3d3 20.96%,#d5d5d5 25.16%,#d7d7d7 29.35%,#d9d9d9 33.54%,#dadada 37.74%,#dbdbdb 41.93%,#dbdbdb 46.12%,#dbdbdb 50.00%,#dbdbdb 53.88%,#dbdbdb 58.07%,#dadada 62.26%,#d9d9d9 66.46%,#d7d7d7 70.65%,#d5d5d5 74.84%,#d3d3d3 79.04%,#d1d1d1 83.23%,#cecece 87.42%,#cacaca 91.61%,#c6c6c6 95.81%,#c2c2c2 99.79%)"></div>
<div style="top:544px;height:4px;background:linear-gradient(90deg,#c2c2c2 0.21%,#c6c6c6 4.19%,#cacaca 8.39%,#cdcdcd 12.58%,#d0d0d0 16.77%,#d3d3d3 20.96%,#d5d5d5 25.16%,#d7d7d7 29.35%,#d9d9d9 33.54%,#dadada 37.74%,#dbdbdb 41.93%,#dbdbdb 46.12%,#dbdbdb 50.00%,#dbdbdb 53.88%,#dbdbdb 58.07%,#dadada 62.26%,#d9d9d9 66.46%,#d7d7d7 70.65%,#d5d5d5 74.84%,#d3d3d3 79.04%,#d0d0d0 83.23%,#cdcdcd 87.42%,#cacaca 91.61%,#c6c6c6 95.81%,#c2c2c2 99.79%)"></div>
<div style="top:548px;height:4px;background:linear-gradient(90deg,#c2c2c2 0.21%,#c6c6c6 4.19%,#cacaca 8.39%,#cdcdcd 12.58%,#d0d0d0 16.77%,#d3d3d3 20.96%,#d5d5d5 25.16%,#d7d7d7 29.35%,#d8d8d8 33.54%,#d9d9d9 37.74%,#dadada 41.93%,#dbdbdb 46.12%,#dbdbdb 50.00%,#dbdbdb 53.88%,#dadada 58.07%,#d9d9d9 62.26%,#d8d8d8 66.46%,#d7d7d7 70.65%,#d5d5d5 74.84%,#d3d3d3 79.04%,#d0d0d0 83.23%,#cdcdcd 87.42%,#cacaca 91.61%,#c6c6c6 95.81%,#c2c2c2 99.79%)"></div>
<div style="top:552px;height:4px;background:linear-gradient(90deg,#c2c2c2 0.21%,#c6c6c6 4.19%,#cacaca 8.39%,#cdcdcd 12.58%,#d0d0d0 16.77%,#d2d2d2 20.96%,#d5d5d5 25.16%,#d7d7d7 29.35%,#d8d8d8 33.54%,#d9d9d9 37.74%,#dadada 41.93%,#dadada 46.12%,#dbdbdb 50.00%,#dadada 53.88%,#dadada 58.07%,#d9d9d9 62.26%,#d8d8d8 66.46%,#d7d7d7 70.65%,#d5d5d5 74.84%,#d2d2d2 79.04%,#d0d0d0 83.23%,#cdcdcd 87.42%,#cacaca 91.61%,#c6c6c6 95.81%,#c2c2c2 99.79%)"></div>
<div style="top:556px;height:4px;background:linear-gradient(90deg,#c2c2c2 0.21%,#c6c6c6 4.19%,#c9c9c9 8.39%,#cdcdcd 12.58%,#d0d0d0 16.77%,#d2d2d2 20.96%,#d4d4d4 25.16%,#d6d6d6 29.35%,#d8d8d8 33.54%,#d9d9d9 37.74%,#dadada 41.93%,#dadada 46.12%,#dadada 50.00%,#dadada 53.88%,#dadada 58.07%,#d9d9d9 62.26%,#d8d8d8 66.46%,#d6d6d6 70.65%,#d4d4d4 74.84%,#d2d2d2 79.04%,#d0d0d0 83.23%,#cdcdcd 87.42%,#c9c9c9 91.61%,#c6c6c6 95.81%,#c2c2c2 99.79%)"></div>
<div style="top:560px;height:4px;background:linear-gradient(90deg,#c1c1c1 0.21%,#c5c5c5 4.19%,#c9c9c9 8.39%,#cccccc 12.58%,#cfcfcf 16.77%,#d2d2d2 20.96%,#d4d4d4 25.16%,#d6d6d6 29.35%,#d7d7d7 33.54%,#d9d9d9 37.74%,#d9d9d9 41.93%,#dadada 46.12%,#dadada 50.00%,#dadada 53.88%,#d9d9d9 58.07%,#d9d9d9 62.26%,#d7d7d7 66.46%,#d6d6d6 70.65%,#d4d4d4 74.84%,#d2d2d2 79.04%,#cfcfcf 83.23%,#cccccc 87.42%,#c9c9c9 91.61%,#c5c5c5 95.81%,#c1c1c1 99.79%)"></div>
<div style="top:564px;height:4px;background:linear-gradient(90deg,#c1c1c1 0.21%,#c5c5c5 4.19%,#c9c9c9 8.39%,#cccccc 12.58%,#cfcfcf 16.77%,#d2d2d2 20.96%,#d4d4d4 25.16%,#d6d6d6 29.35%,#d7d7d7 33.54%,#d8d8d8 37.74%,#d9d9d9 41.93%,#dadada 46.12%,#dadada 50.00%,#dadada 53.88%,#d9d9d9 58.07%,#d8d8d8 62.26%,#d7d7d7 66.46%,#d6d6d6 70.65%,#d4d4d4 74.84%,#d2d2d2 79.04%,#cfcfcf 83.23%,#cccccc 87.42%,#c9c9c9 91.61%,#c5c5c5 95.81%,#c1c1c1 99.79%)"></div>
<div style="top:568px;height:4px;background:linear-gradient(90deg,#c1c1c1 0.21%,#c5c5c5 4.19%,#c9c9c9 8.39%,#cccccc 12.58%,#cfcfcf 16.77%,#d1d1d1 20.96%,#d4d4d4 25.16%,#d5d5d5 29.35%,#d7d7d7 33.54%,#d8d8d8 37.74%,#d9d9d9 41.93%,#d9d9d9 46.12%,#d9d9d9 50.00%,#d9d9d9 53.88%,#d9d9d9 58.07%,#d8d8d8 62.26%,#d7d7d7 66.46%,#d5d5d5 70.65%,#d4d4d4 74.84%,#d1d1d1 79.04%,#cfcfcf 83.23%,#cccccc 87.42%,#c9c9c9 91.61%,#c5c5c5 95.81%,#c1c1c1 99.79%)"></div>
<div style="top:572px;height:4px;background:linear-gradient(90deg,#c1c1c1 0.21%,#c5c5c5 4.19%,#c8c8c8 8.39%,#cccccc 12.58%,#cfcfcf 16.77%,#d1d1d1 20.96%,#d3d3d3 25.16%,#d5d5d5 29.35%,#d7d7d7 33.54%,#d8d8d8 37.74%,#d9d9d9 41.93%,#d9d9d9 46.12%,#d9d9d9 50.00%,#d9d9d9 53.88%,#d9d9d9 58.07%,#d8d8d8 62.26%,#d7d7d7 66.46%,#d5d5d5 70.65%,#d3d3d3 74.84%,#d1d1d1 79.04%,#cfcfcf 83.23%,#cccccc 87.42%,#c8c8c8 91.61%,#c5c5c5 95.81%,#c1c1c1 99.79%)"></div>
<div style="top:576px;height:4px;background:linear-gradient(90deg,#c1c1c1 0.21%,#c5c5c5 4.19%,#c8c8c8 8.39%,#cccccc 12.58%,#cecece 16.77%,#d1d1d1 20.96%,#d3d3d3 25.16%,#d5d5d5 29.35%,#d6d6d6 33.54%,#d7d7d7 37.74%,#d8d8d8 41.93%,#d9d9d9 46.12%,#d9d9d9 50.00%,#d9d9d9 53.88%,#d8d8d8 58.07%,#d7d7d7 62.26%,#d6d6d6 66.46%,#d5d5d5 70.65%,#d3d3d3 74.84%,#d1d1d1 79.04%,#cecece 83.23%,#cccccc 87.42%,#c8c8c8 91.61%,#c5c5c5 95.81%,#c1c1c1 99.79%)"></div>
<div style="top:580px;height:4px;background:linear-gradient(90deg,#c1c1c1 0.21%,#c4c4c4 4.19%,#c8c8c8 8.39%,#cbcbcb 12.58%,#cecece 16.77%,#d1d1d1 20.96%,#d3d3d3 25.16%,#d5d5d5 29.35%,#d6d6d6 33.54%,#d7d7d7 37.74%,#d8d8d8 41.93%,#d8d8d8 46.12%,#d9d9d9 50.00%,#d8d8d8 53.88%,#d8d8d8 58.07%,#d7d7d7 62.26%,#d6d6d6 66.46%,#d5d5d5 70.65%,#d3d3d3 74.84%,#d1d1d1 79.04%,#cecece 83.23%,#cbcbcb 87.42%,#c8c8c8 91.61%,#c4c4c4 95.81%,#c1c1c1 99.79%)"></div>
<div style="top:584px;height:4px;background:linear-gradient(90deg,#c0c0c0 0.21%,#c4c4c4 4.19%,#c8c8c8 8.39%,#cbcbcb 12.58%,#cecece 16.77%,#d0d0d0 20.96%,#d3d3d3 25.16%,#d4d4d4 29.35%,#d6d6d6 33.54%,#d7d7d7 37.74%,#d8d8d8 41.93%,#d8d8d8 46.12%,#d8d8d8 50.00%,#d8d8d8 53.88%,#d8d8d8 58.07%,#d7d7d7 62.26%,#d6d6d6 66.46%,#d4d4d4 70.65%,#d3d3d3 74.84%,#d0d0d0 79.04%,#cecece 83.23%,#cbcbcb 87.42%,#c8c8c8 91.61%,#c4c4c4 95.81%,#c0c0c0 99.79%)"></div>
<div style="top:588px;height:4px;background:linear-gradient(90deg,#c0c0c0 0.21%,#c4c4c4 4.19%,#c8c8c8 8.39%,#cbcbcb 12.58%,#cecece 16.77%,#d0d0d0 20.96%,#d2d2d2 25.16%,#d4d4d4 29.35%,#d6d6d6 33.54%,#d7d7d7 37.74%,#d7d7d7 41.93%,#d8d8d8 46.12%,#d8d8d8 50.00%,#d8d8d8 53.88%,#d7d7d7 58.07%,#d7d7d7 62.26%,#d6d6d6 66.46%,#d4d4d4 70.65%,#d2d2d2 74.84%,#d0d0d0 79.04%,#cecece 83.23%,#cbcbcb 87.42%,#c8c8c8 91.61%,#c4c4c4 95.81%,#c0c0c0 99.79%)"></div>
</div>
<svg width="954" height="590" viewBox="0 0 954 590">
<defs><linearGradient id="gl" gradientUnits="userSpaceOnUse" x1="0" y1="80" x2="0" y2="508">
<stop offset="0" stop-color="#000" stop-opacity="0.09"/><stop offset="1" stop-color="#000" stop-opacity="0.43"/></linearGradient></defs>
<path d="M0 0H954V590H0Z M2 2V587.5H952V2Z" fill="#000" fill-rule="evenodd"/>
<rect x="3" y="3" width="948" height="583.5" fill="none" stroke="#fff" stroke-opacity="0.35" stroke-width="1.2"/>
<path d="M24 465.45H930M24 422.70H930M24 379.95H930M24 337.20H930M24 294.45H930M24 251.70H930M24 208.95H930M24 166.20H930M24 123.45H930M24 80.70H930" stroke="url(#gl)" stroke-width="1.9" fill="none"/>
<rect x="193.12" y="459.46" width="56.8" height="48.74" fill="#70ad47" fill-opacity="0.85"/>
<rect x="193.12" y="459.46" width="56.8" height="48.74" fill="none" stroke="#fff" stroke-opacity="0.7" stroke-width="1.5"/>
<rect x="249.93" y="406.37" width="56.8" height="101.83" fill="#5b9bd5" fill-opacity="0.85"/>
<rect x="249.93" y="406.37" width="56.8" height="101.83" fill="none" stroke="#fff" stroke-opacity="0.7" stroke-width="1.5"/>
<rect x="344.07" y="426.12" width="56.8" height="82.08" fill="#70ad47" fill-opacity="0.85"/>
<rect x="344.07" y="426.12" width="56.8" height="82.08" fill="none" stroke="#fff" stroke-opacity="0.7" stroke-width="1.5"/>
<rect x="400.88" y="368.66" width="56.8" height="139.54" fill="#5b9bd5" fill-opacity="0.85"/>
<rect x="400.88" y="368.66" width="56.8" height="139.54" fill="none" stroke="#fff" stroke-opacity="0.7" stroke-width="1.5"/>
<rect x="495.02" y="396.19" width="56.8" height="112.00" fill="#70ad47" fill-opacity="0.85"/>
<rect x="495.02" y="396.19" width="56.8" height="112.00" fill="none" stroke="#fff" stroke-opacity="0.7" stroke-width="1.5"/>
<rect x="551.82" y="312.06" width="56.8" height="196.14" fill="#5b9bd5" fill-opacity="0.85"/>
<rect x="551.82" y="312.06" width="56.8" height="196.14" fill="none" stroke="#fff" stroke-opacity="0.7" stroke-width="1.5"/>
<rect x="645.97" y="360.28" width="56.8" height="147.92" fill="#70ad47" fill-opacity="0.85"/>
<rect x="645.97" y="360.28" width="56.8" height="147.92" fill="none" stroke="#fff" stroke-opacity="0.7" stroke-width="1.5"/>
<rect x="702.77" y="202.37" width="56.8" height="305.83" fill="#5b9bd5" fill-opacity="0.85"/>
<rect x="702.77" y="202.37" width="56.8" height="305.83" fill="none" stroke="#fff" stroke-opacity="0.7" stroke-width="1.5"/>
<rect x="796.92" y="297.87" width="56.8" height="210.33" fill="#70ad47" fill-opacity="0.85"/>
<rect x="796.92" y="297.87" width="56.8" height="210.33" fill="none" stroke="#fff" stroke-opacity="0.7" stroke-width="1.5"/>
<rect x="853.72" y="116.78" width="56.8" height="391.42" fill="#5b9bd5" fill-opacity="0.85"/>
<rect x="853.72" y="116.78" width="56.8" height="391.42" fill="none" stroke="#fff" stroke-opacity="0.7" stroke-width="1.5"/>
<rect x="24" y="506.60" width="906" height="3.2" fill="#333"/>
<rect x="271.3" y="29.4" width="9.3" height="10.3" fill="#70ad47" fill-opacity="0.88"/>
<rect x="432.4" y="29.6" width="9.2" height="10.2" fill="#5b9bd5" fill-opacity="0.88"/>
<text stroke="#474747" stroke-width="0.3" x="286.20" y="41.60" font-size="18.8" font-weight="normal" fill="#474747" textLength="112.60" lengthAdjust="spacingAndGlyphs">PDHS-2018 (%)</text>
<text stroke="#474747" stroke-width="0.3" x="447.30" y="41.10" font-size="18.8" font-weight="normal" fill="#474747" textLength="241.90" lengthAdjust="spacingAndGlyphs">Average share in annual income</text>
<text stroke="#474747" stroke-width="0.3" x="62.80" y="541.30" font-size="19.0" font-weight="normal" fill="#474747" textLength="73.80" lengthAdjust="spacingAndGlyphs">MINIMAL</text>
<text stroke="#474747" stroke-width="0.3" x="31.40" y="566.80" font-size="19.0" font-weight="normal" fill="#474747" textLength="136.20" lengthAdjust="spacingAndGlyphs">ACCEPTABLE DIET</text>
<text stroke="#474747" stroke-width="0.3" x="206.30" y="540.90" font-size="19.0" font-weight="normal" fill="#474747" textLength="88.10" lengthAdjust="spacingAndGlyphs">VERY POOR</text>
<text stroke="#474747" stroke-width="0.3" x="378.60" y="540.90" font-size="19.0" font-weight="normal" fill="#474747" textLength="44.80" lengthAdjust="spacingAndGlyphs">POOR</text>
<text stroke="#474747" stroke-width="0.3" x="521.30" y="540.90" font-size="19.0" font-weight="normal" fill="#474747" textLength="62.20" lengthAdjust="spacingAndGlyphs">MIDDLE</text>
<text stroke="#474747" stroke-width="0.3" x="657.20" y="540.90" font-size="19.0" font-weight="normal" fill="#474747" textLength="90.50" lengthAdjust="spacingAndGlyphs">BETTER OFF</text>
<text stroke="#474747" stroke-width="0.3" x="817.60" y="540.90" font-size="19.0" font-weight="normal" fill="#474747" textLength="74.00" lengthAdjust="spacingAndGlyphs">WEALTHY</text>
<text stroke="#fff" stroke-width="0.5" x="209.20" y="490.20" font-size="19.3" font-weight="bold" fill="#fff" textLength="24.10" lengthAdjust="spacingAndGlyphs">5.7</text>
<text stroke="#fff" stroke-width="0.5" x="257.00" y="437.10" font-size="19.3" font-weight="bold" fill="#fff" textLength="43.10" lengthAdjust="spacingAndGlyphs">11.91</text>
<text stroke="#fff" stroke-width="0.5" x="360.60" y="457.30" font-size="19.3" font-weight="bold" fill="#fff" textLength="23.90" lengthAdjust="spacingAndGlyphs">9.6</text>
<text stroke="#fff" stroke-width="0.5" x="408.10" y="398.80" font-size="19.3" font-weight="bold" fill="#fff" textLength="42.90" lengthAdjust="spacingAndGlyphs">16.32</text>
<text stroke="#fff" stroke-width="0.5" x="506.90" y="426.90" font-size="19.3" font-weight="bold" fill="#fff" textLength="33.00" lengthAdjust="spacingAndGlyphs">13.1</text>
<text stroke="#fff" stroke-width="0.5" x="558.60" y="342.60" font-size="19.3" font-weight="bold" fill="#fff" textLength="43.60" lengthAdjust="spacingAndGlyphs">22.94</text>
<text stroke="#fff" stroke-width="0.5" x="658.20" y="391.10" font-size="19.3" font-weight="bold" fill="#fff" textLength="33.10" lengthAdjust="spacingAndGlyphs">17.3</text>
<text stroke="#fff" stroke-width="0.5" x="709.30" y="232.60" font-size="19.3" font-weight="bold" fill="#fff" textLength="43.90" lengthAdjust="spacingAndGlyphs">35.77</text>
<text stroke="#fff" stroke-width="0.5" x="808.60" y="327.90" font-size="19.3" font-weight="bold" fill="#fff" textLength="33.90" lengthAdjust="spacingAndGlyphs">24.6</text>
<text stroke="#fff" stroke-width="0.5" x="860.20" y="147.10" font-size="19.3" font-weight="bold" fill="#fff" textLength="44.30" lengthAdjust="spacingAndGlyphs">45.78</text>
</svg>
</body></html>
